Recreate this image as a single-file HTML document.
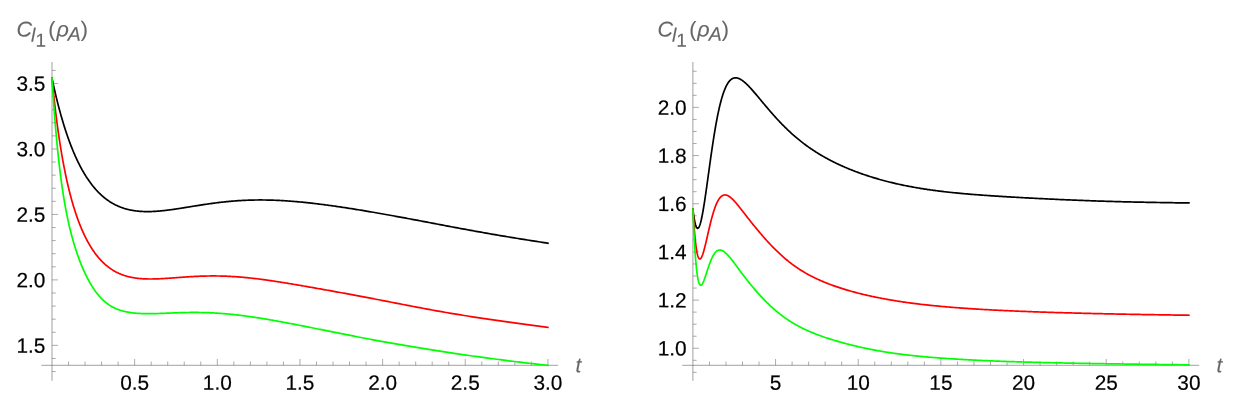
<!DOCTYPE html>
<html><head><meta charset="utf-8"><title>plot</title>
<style>
html,body{margin:0;padding:0;background:#fff;}
svg{display:block;font-family:"Liberation Sans",sans-serif;}
</style></head><body>
<svg width="1242" height="407" viewBox="0 0 1242 407">
<rect width="1242" height="407" fill="#fff"/>
<line x1="41.40" y1="365.30" x2="558.20" y2="365.30" stroke="#666" stroke-width="0.62"/>
<line x1="52.00" y1="62.00" x2="52.00" y2="380.80" stroke="#666" stroke-width="0.62"/>
<line x1="68.53" y1="365.30" x2="68.53" y2="361.50" stroke="#666" stroke-width="0.55"/>
<line x1="85.06" y1="365.30" x2="85.06" y2="361.50" stroke="#666" stroke-width="0.55"/>
<line x1="101.59" y1="365.30" x2="101.59" y2="361.50" stroke="#666" stroke-width="0.55"/>
<line x1="118.12" y1="365.30" x2="118.12" y2="361.50" stroke="#666" stroke-width="0.55"/>
<line x1="134.65" y1="365.30" x2="134.65" y2="359.00" stroke="#666" stroke-width="0.55"/>
<line x1="151.18" y1="365.30" x2="151.18" y2="361.50" stroke="#666" stroke-width="0.55"/>
<line x1="167.71" y1="365.30" x2="167.71" y2="361.50" stroke="#666" stroke-width="0.55"/>
<line x1="184.24" y1="365.30" x2="184.24" y2="361.50" stroke="#666" stroke-width="0.55"/>
<line x1="200.77" y1="365.30" x2="200.77" y2="361.50" stroke="#666" stroke-width="0.55"/>
<line x1="217.30" y1="365.30" x2="217.30" y2="359.00" stroke="#666" stroke-width="0.55"/>
<line x1="233.83" y1="365.30" x2="233.83" y2="361.50" stroke="#666" stroke-width="0.55"/>
<line x1="250.36" y1="365.30" x2="250.36" y2="361.50" stroke="#666" stroke-width="0.55"/>
<line x1="266.89" y1="365.30" x2="266.89" y2="361.50" stroke="#666" stroke-width="0.55"/>
<line x1="283.42" y1="365.30" x2="283.42" y2="361.50" stroke="#666" stroke-width="0.55"/>
<line x1="299.95" y1="365.30" x2="299.95" y2="359.00" stroke="#666" stroke-width="0.55"/>
<line x1="316.48" y1="365.30" x2="316.48" y2="361.50" stroke="#666" stroke-width="0.55"/>
<line x1="333.01" y1="365.30" x2="333.01" y2="361.50" stroke="#666" stroke-width="0.55"/>
<line x1="349.54" y1="365.30" x2="349.54" y2="361.50" stroke="#666" stroke-width="0.55"/>
<line x1="366.07" y1="365.30" x2="366.07" y2="361.50" stroke="#666" stroke-width="0.55"/>
<line x1="382.60" y1="365.30" x2="382.60" y2="359.00" stroke="#666" stroke-width="0.55"/>
<line x1="399.13" y1="365.30" x2="399.13" y2="361.50" stroke="#666" stroke-width="0.55"/>
<line x1="415.66" y1="365.30" x2="415.66" y2="361.50" stroke="#666" stroke-width="0.55"/>
<line x1="432.19" y1="365.30" x2="432.19" y2="361.50" stroke="#666" stroke-width="0.55"/>
<line x1="448.72" y1="365.30" x2="448.72" y2="361.50" stroke="#666" stroke-width="0.55"/>
<line x1="465.25" y1="365.30" x2="465.25" y2="359.00" stroke="#666" stroke-width="0.55"/>
<line x1="481.78" y1="365.30" x2="481.78" y2="361.50" stroke="#666" stroke-width="0.55"/>
<line x1="498.31" y1="365.30" x2="498.31" y2="361.50" stroke="#666" stroke-width="0.55"/>
<line x1="514.84" y1="365.30" x2="514.84" y2="361.50" stroke="#666" stroke-width="0.55"/>
<line x1="531.37" y1="365.30" x2="531.37" y2="361.50" stroke="#666" stroke-width="0.55"/>
<line x1="547.90" y1="365.30" x2="547.90" y2="359.00" stroke="#666" stroke-width="0.55"/>
<line x1="52.00" y1="371.55" x2="55.75" y2="371.55" stroke="#666" stroke-width="0.55"/>
<line x1="52.00" y1="358.45" x2="55.75" y2="358.45" stroke="#666" stroke-width="0.55"/>
<line x1="52.00" y1="345.36" x2="58.05" y2="345.36" stroke="#666" stroke-width="0.55"/>
<line x1="52.00" y1="332.27" x2="55.75" y2="332.27" stroke="#666" stroke-width="0.55"/>
<line x1="52.00" y1="319.17" x2="55.75" y2="319.17" stroke="#666" stroke-width="0.55"/>
<line x1="52.00" y1="306.08" x2="55.75" y2="306.08" stroke="#666" stroke-width="0.55"/>
<line x1="52.00" y1="292.99" x2="55.75" y2="292.99" stroke="#666" stroke-width="0.55"/>
<line x1="52.00" y1="279.89" x2="58.05" y2="279.89" stroke="#666" stroke-width="0.55"/>
<line x1="52.00" y1="266.80" x2="55.75" y2="266.80" stroke="#666" stroke-width="0.55"/>
<line x1="52.00" y1="253.71" x2="55.75" y2="253.71" stroke="#666" stroke-width="0.55"/>
<line x1="52.00" y1="240.62" x2="55.75" y2="240.62" stroke="#666" stroke-width="0.55"/>
<line x1="52.00" y1="227.52" x2="55.75" y2="227.52" stroke="#666" stroke-width="0.55"/>
<line x1="52.00" y1="214.43" x2="58.05" y2="214.43" stroke="#666" stroke-width="0.55"/>
<line x1="52.00" y1="201.34" x2="55.75" y2="201.34" stroke="#666" stroke-width="0.55"/>
<line x1="52.00" y1="188.24" x2="55.75" y2="188.24" stroke="#666" stroke-width="0.55"/>
<line x1="52.00" y1="175.15" x2="55.75" y2="175.15" stroke="#666" stroke-width="0.55"/>
<line x1="52.00" y1="162.06" x2="55.75" y2="162.06" stroke="#666" stroke-width="0.55"/>
<line x1="52.00" y1="148.96" x2="58.05" y2="148.96" stroke="#666" stroke-width="0.55"/>
<line x1="52.00" y1="135.87" x2="55.75" y2="135.87" stroke="#666" stroke-width="0.55"/>
<line x1="52.00" y1="122.78" x2="55.75" y2="122.78" stroke="#666" stroke-width="0.55"/>
<line x1="52.00" y1="109.69" x2="55.75" y2="109.69" stroke="#666" stroke-width="0.55"/>
<line x1="52.00" y1="96.59" x2="55.75" y2="96.59" stroke="#666" stroke-width="0.55"/>
<line x1="52.00" y1="83.50" x2="58.05" y2="83.50" stroke="#666" stroke-width="0.55"/>
<line x1="52.00" y1="70.41" x2="55.75" y2="70.41" stroke="#666" stroke-width="0.55"/>
<line x1="682.30" y1="365.30" x2="1199.19" y2="365.30" stroke="#666" stroke-width="0.62"/>
<line x1="692.90" y1="62.00" x2="692.90" y2="380.80" stroke="#666" stroke-width="0.62"/>
<line x1="709.43" y1="365.30" x2="709.43" y2="361.50" stroke="#666" stroke-width="0.55"/>
<line x1="725.97" y1="365.30" x2="725.97" y2="361.50" stroke="#666" stroke-width="0.55"/>
<line x1="742.50" y1="365.30" x2="742.50" y2="361.50" stroke="#666" stroke-width="0.55"/>
<line x1="759.03" y1="365.30" x2="759.03" y2="361.50" stroke="#666" stroke-width="0.55"/>
<line x1="775.56" y1="365.30" x2="775.56" y2="359.00" stroke="#666" stroke-width="0.55"/>
<line x1="792.10" y1="365.30" x2="792.10" y2="361.50" stroke="#666" stroke-width="0.55"/>
<line x1="808.63" y1="365.30" x2="808.63" y2="361.50" stroke="#666" stroke-width="0.55"/>
<line x1="825.16" y1="365.30" x2="825.16" y2="361.50" stroke="#666" stroke-width="0.55"/>
<line x1="841.70" y1="365.30" x2="841.70" y2="361.50" stroke="#666" stroke-width="0.55"/>
<line x1="858.23" y1="365.30" x2="858.23" y2="359.00" stroke="#666" stroke-width="0.55"/>
<line x1="874.76" y1="365.30" x2="874.76" y2="361.50" stroke="#666" stroke-width="0.55"/>
<line x1="891.30" y1="365.30" x2="891.30" y2="361.50" stroke="#666" stroke-width="0.55"/>
<line x1="907.83" y1="365.30" x2="907.83" y2="361.50" stroke="#666" stroke-width="0.55"/>
<line x1="924.36" y1="365.30" x2="924.36" y2="361.50" stroke="#666" stroke-width="0.55"/>
<line x1="940.89" y1="365.30" x2="940.89" y2="359.00" stroke="#666" stroke-width="0.55"/>
<line x1="957.43" y1="365.30" x2="957.43" y2="361.50" stroke="#666" stroke-width="0.55"/>
<line x1="973.96" y1="365.30" x2="973.96" y2="361.50" stroke="#666" stroke-width="0.55"/>
<line x1="990.49" y1="365.30" x2="990.49" y2="361.50" stroke="#666" stroke-width="0.55"/>
<line x1="1007.03" y1="365.30" x2="1007.03" y2="361.50" stroke="#666" stroke-width="0.55"/>
<line x1="1023.56" y1="365.30" x2="1023.56" y2="359.00" stroke="#666" stroke-width="0.55"/>
<line x1="1040.09" y1="365.30" x2="1040.09" y2="361.50" stroke="#666" stroke-width="0.55"/>
<line x1="1056.63" y1="365.30" x2="1056.63" y2="361.50" stroke="#666" stroke-width="0.55"/>
<line x1="1073.16" y1="365.30" x2="1073.16" y2="361.50" stroke="#666" stroke-width="0.55"/>
<line x1="1089.69" y1="365.30" x2="1089.69" y2="361.50" stroke="#666" stroke-width="0.55"/>
<line x1="1106.22" y1="365.30" x2="1106.22" y2="359.00" stroke="#666" stroke-width="0.55"/>
<line x1="1122.76" y1="365.30" x2="1122.76" y2="361.50" stroke="#666" stroke-width="0.55"/>
<line x1="1139.29" y1="365.30" x2="1139.29" y2="361.50" stroke="#666" stroke-width="0.55"/>
<line x1="1155.82" y1="365.30" x2="1155.82" y2="361.50" stroke="#666" stroke-width="0.55"/>
<line x1="1172.36" y1="365.30" x2="1172.36" y2="361.50" stroke="#666" stroke-width="0.55"/>
<line x1="1188.89" y1="365.30" x2="1188.89" y2="359.00" stroke="#666" stroke-width="0.55"/>
<line x1="692.90" y1="372.36" x2="696.65" y2="372.36" stroke="#666" stroke-width="0.55"/>
<line x1="692.90" y1="360.31" x2="696.65" y2="360.31" stroke="#666" stroke-width="0.55"/>
<line x1="692.90" y1="348.27" x2="698.95" y2="348.27" stroke="#666" stroke-width="0.55"/>
<line x1="692.90" y1="336.23" x2="696.65" y2="336.23" stroke="#666" stroke-width="0.55"/>
<line x1="692.90" y1="324.18" x2="696.65" y2="324.18" stroke="#666" stroke-width="0.55"/>
<line x1="692.90" y1="312.14" x2="696.65" y2="312.14" stroke="#666" stroke-width="0.55"/>
<line x1="692.90" y1="300.09" x2="698.95" y2="300.09" stroke="#666" stroke-width="0.55"/>
<line x1="692.90" y1="288.05" x2="696.65" y2="288.05" stroke="#666" stroke-width="0.55"/>
<line x1="692.90" y1="276.01" x2="696.65" y2="276.01" stroke="#666" stroke-width="0.55"/>
<line x1="692.90" y1="263.96" x2="696.65" y2="263.96" stroke="#666" stroke-width="0.55"/>
<line x1="692.90" y1="251.92" x2="698.95" y2="251.92" stroke="#666" stroke-width="0.55"/>
<line x1="692.90" y1="239.87" x2="696.65" y2="239.87" stroke="#666" stroke-width="0.55"/>
<line x1="692.90" y1="227.83" x2="696.65" y2="227.83" stroke="#666" stroke-width="0.55"/>
<line x1="692.90" y1="215.79" x2="696.65" y2="215.79" stroke="#666" stroke-width="0.55"/>
<line x1="692.90" y1="203.74" x2="698.95" y2="203.74" stroke="#666" stroke-width="0.55"/>
<line x1="692.90" y1="191.70" x2="696.65" y2="191.70" stroke="#666" stroke-width="0.55"/>
<line x1="692.90" y1="179.65" x2="696.65" y2="179.65" stroke="#666" stroke-width="0.55"/>
<line x1="692.90" y1="167.61" x2="696.65" y2="167.61" stroke="#666" stroke-width="0.55"/>
<line x1="692.90" y1="155.57" x2="698.95" y2="155.57" stroke="#666" stroke-width="0.55"/>
<line x1="692.90" y1="143.52" x2="696.65" y2="143.52" stroke="#666" stroke-width="0.55"/>
<line x1="692.90" y1="131.48" x2="696.65" y2="131.48" stroke="#666" stroke-width="0.55"/>
<line x1="692.90" y1="119.43" x2="696.65" y2="119.43" stroke="#666" stroke-width="0.55"/>
<line x1="692.90" y1="107.39" x2="698.95" y2="107.39" stroke="#666" stroke-width="0.55"/>
<line x1="692.90" y1="95.35" x2="696.65" y2="95.35" stroke="#666" stroke-width="0.55"/>
<line x1="692.90" y1="83.30" x2="696.65" y2="83.30" stroke="#666" stroke-width="0.55"/>
<line x1="692.90" y1="71.26" x2="696.65" y2="71.26" stroke="#666" stroke-width="0.55"/>
<path d="M52.00 78.39 L52.29 79.76 L52.58 81.11 L52.87 82.45 L53.16 83.78 L53.45 85.09 L53.74 86.40 L54.03 87.69 L54.32 88.97 L54.61 90.24 L54.90 91.50 L55.19 92.74 L55.48 93.98 L55.77 95.20 L56.06 96.41 L56.35 97.61 L56.64 98.80 L56.93 99.98 L57.22 101.15 L57.52 102.31 L57.81 103.46 L58.10 104.60 L58.39 105.73 L58.68 106.85 L58.97 107.96 L59.27 109.06 L59.56 110.16 L59.85 111.24 L60.15 112.31 L60.44 113.37 L60.73 114.43 L61.03 115.48 L61.32 116.51 L61.62 117.54 L61.91 118.56 L62.21 119.57 L62.50 120.57 L62.80 121.57 L63.09 122.56 L63.39 123.53 L63.69 124.50 L63.98 125.47 L64.28 126.42 L64.58 127.37 L64.88 128.30 L65.18 129.24 L65.47 130.16 L65.77 131.08 L66.07 131.98 L66.37 132.89 L66.68 133.78 L66.98 134.67 L67.28 135.55 L67.58 136.42 L67.88 137.28 L68.19 138.14 L68.49 138.99 L68.79 139.84 L69.10 140.68 L69.40 141.51 L69.71 142.33 L70.02 143.15 L70.32 143.96 L70.63 144.77 L70.94 145.57 L71.25 146.36 L71.56 147.15 L71.86 147.93 L72.18 148.70 L72.49 149.47 L72.80 150.23 L73.11 150.98 L73.42 151.73 L73.74 152.48 L74.05 153.21 L74.36 153.95 L74.68 154.67 L75.00 155.39 L75.31 156.11 L75.63 156.81 L75.95 157.52 L76.27 158.21 L76.59 158.91 L76.91 159.59 L77.23 160.27 L77.55 160.95 L77.87 161.62 L78.20 162.28 L78.52 162.94 L78.85 163.60 L79.17 164.24 L79.50 164.89 L79.83 165.53 L80.15 166.16 L80.48 166.79 L80.81 167.41 L81.14 168.02 L81.48 168.64 L81.81 169.24 L82.14 169.85 L82.48 170.44 L82.81 171.04 L83.15 171.62 L83.48 172.20 L83.82 172.78 L84.16 173.35 L84.50 173.92 L84.84 174.48 L85.18 175.04 L85.53 175.59 L85.87 176.14 L86.21 176.69 L86.56 177.22 L86.91 177.76 L87.25 178.29 L87.60 178.81 L87.95 179.33 L88.30 179.85 L88.66 180.36 L89.01 180.86 L89.36 181.37 L89.72 181.86 L90.07 182.35 L90.43 182.84 L90.79 183.33 L91.15 183.80 L91.51 184.28 L91.87 184.75 L92.23 185.21 L92.60 185.67 L92.96 186.13 L93.33 186.58 L93.70 187.03 L94.07 187.47 L94.44 187.91 L94.81 188.35 L95.18 188.78 L95.55 189.20 L95.93 189.62 L96.30 190.04 L96.68 190.45 L97.06 190.86 L97.44 191.26 L97.82 191.66 L98.20 192.06 L98.59 192.45 L98.97 192.84 L99.36 193.22 L99.75 193.60 L100.14 193.97 L100.53 194.34 L100.92 194.71 L101.31 195.07 L101.70 195.43 L102.10 195.78 L102.50 196.13 L102.90 196.47 L103.30 196.81 L103.70 197.15 L104.10 197.48 L104.50 197.81 L104.91 198.14 L105.32 198.46 L105.73 198.77 L106.14 199.08 L106.55 199.39 L106.96 199.69 L107.37 199.99 L107.79 200.29 L108.21 200.58 L108.63 200.87 L109.05 201.15 L109.47 201.43 L109.89 201.71 L110.32 201.98 L110.75 202.24 L111.17 202.51 L111.60 202.77 L112.04 203.02 L112.47 203.27 L112.90 203.52 L113.34 203.76 L113.78 204.00 L114.22 204.24 L114.66 204.47 L115.10 204.70 L115.55 204.92 L115.99 205.14 L116.44 205.36 L116.89 205.57 L117.34 205.78 L117.79 205.98 L118.25 206.18 L118.71 206.38 L119.16 206.57 L119.62 206.76 L120.09 206.94 L120.55 207.12 L121.01 207.30 L121.48 207.47 L121.95 207.64 L122.42 207.81 L122.89 207.97 L123.37 208.13 L123.84 208.29 L124.32 208.44 L124.80 208.58 L125.28 208.73 L125.77 208.87 L126.25 209.00 L126.74 209.14 L127.23 209.26 L127.72 209.39 L128.21 209.51 L128.71 209.63 L129.20 209.74 L129.70 209.85 L130.20 209.96 L130.71 210.06 L131.21 210.16 L131.72 210.26 L132.22 210.35 L132.74 210.44 L133.25 210.53 L133.76 210.61 L134.28 210.69 L134.80 210.76 L135.32 210.84 L135.84 210.91 L136.37 210.97 L136.89 211.03 L137.42 211.09 L137.95 211.15 L138.48 211.20 L139.02 211.25 L139.56 211.29 L140.10 211.33 L140.64 211.37 L141.18 211.41 L141.73 211.44 L142.27 211.47 L142.82 211.50 L143.38 211.52 L143.93 211.54 L144.49 211.56 L145.05 211.57 L145.61 211.58 L146.17 211.59 L146.74 211.59 L147.30 211.60 L147.87 211.60 L148.45 211.59 L149.02 211.58 L149.60 211.57 L150.18 211.56 L150.76 211.55 L151.34 211.53 L151.93 211.51 L152.51 211.48 L153.10 211.46 L153.70 211.43 L154.29 211.40 L154.89 211.36 L155.49 211.33 L156.09 211.29 L156.70 211.24 L157.30 211.20 L157.91 211.15 L158.52 211.10 L159.14 211.05 L159.75 211.00 L160.37 210.94 L161.00 210.88 L161.62 210.82 L162.25 210.76 L162.87 210.69 L163.51 210.63 L164.14 210.56 L164.78 210.49 L165.41 210.41 L166.06 210.34 L166.70 210.26 L167.35 210.18 L167.99 210.10 L168.65 210.02 L169.30 209.93 L169.96 209.84 L170.62 209.76 L171.28 209.67 L171.94 209.57 L172.61 209.48 L173.28 209.39 L173.95 209.29 L174.62 209.19 L175.30 209.09 L175.98 208.99 L176.66 208.89 L177.35 208.78 L178.04 208.68 L178.73 208.57 L179.42 208.47 L180.12 208.36 L180.82 208.25 L181.52 208.14 L182.22 208.03 L182.93 207.92 L183.64 207.80 L184.35 207.69 L185.07 207.57 L185.78 207.46 L186.50 207.34 L187.23 207.22 L187.95 207.11 L188.68 206.99 L189.42 206.87 L190.15 206.75 L190.89 206.63 L191.63 206.51 L192.37 206.39 L193.12 206.27 L193.87 206.15 L194.62 206.03 L195.37 205.91 L196.13 205.79 L196.89 205.66 L197.66 205.54 L198.42 205.42 L199.19 205.30 L199.96 205.18 L200.74 205.06 L201.52 204.94 L202.30 204.82 L203.08 204.70 L203.87 204.58 L204.66 204.46 L205.45 204.34 L206.25 204.23 L207.05 204.11 L207.85 203.99 L208.66 203.88 L209.46 203.76 L210.28 203.65 L211.09 203.54 L211.91 203.42 L212.73 203.31 L213.55 203.20 L214.38 203.09 L215.21 202.99 L216.04 202.88 L216.88 202.77 L217.72 202.67 L218.56 202.57 L219.41 202.46 L220.26 202.36 L221.11 202.27 L221.96 202.17 L222.82 202.07 L223.68 201.98 L224.55 201.89 L225.42 201.79 L226.29 201.71 L227.16 201.62 L228.04 201.53 L228.92 201.45 L229.80 201.37 L230.69 201.29 L231.58 201.21 L232.48 201.13 L233.37 201.06 L234.27 200.99 L235.18 200.92 L236.09 200.85 L237.00 200.79 L237.91 200.72 L238.83 200.66 L239.75 200.60 L240.67 200.55 L241.60 200.50 L242.53 200.44 L243.47 200.40 L244.40 200.35 L245.35 200.31 L246.29 200.26 L247.24 200.23 L248.19 200.19 L249.14 200.16 L250.10 200.13 L251.06 200.10 L252.03 200.07 L253.00 200.05 L253.97 200.03 L254.95 200.01 L255.93 200.00 L256.91 199.99 L257.90 199.98 L258.89 199.97 L259.88 199.97 L260.88 199.97 L261.88 199.97 L262.88 199.98 L263.89 199.98 L264.90 199.99 L265.92 200.01 L266.93 200.03 L267.96 200.05 L268.98 200.07 L270.01 200.09 L271.05 200.12 L272.08 200.15 L273.12 200.19 L274.17 200.23 L275.21 200.27 L276.27 200.31 L277.32 200.36 L278.38 200.41 L279.44 200.46 L280.51 200.51 L281.58 200.57 L282.65 200.63 L283.73 200.70 L284.81 200.76 L285.90 200.83 L286.99 200.91 L288.08 200.98 L289.18 201.06 L290.28 201.14 L291.38 201.23 L292.49 201.31 L293.60 201.40 L294.72 201.50 L295.84 201.59 L296.96 201.69 L298.09 201.79 L299.22 201.90 L300.36 202.00 L301.50 202.11 L302.64 202.22 L303.79 202.34 L304.94 202.46 L306.09 202.58 L307.25 202.70 L308.41 202.82 L309.58 202.95 L310.75 203.08 L311.93 203.21 L313.10 203.35 L314.29 203.49 L315.47 203.63 L316.66 203.77 L317.86 203.92 L319.06 204.06 L320.26 204.22 L321.47 204.37 L322.68 204.52 L323.89 204.68 L325.11 204.84 L326.34 205.00 L327.56 205.17 L328.80 205.33 L330.03 205.50 L331.27 205.67 L332.51 205.85 L333.76 206.02 L335.02 206.20 L336.27 206.38 L337.53 206.56 L338.80 206.75 L340.07 206.94 L341.34 207.12 L342.62 207.31 L343.90 207.51 L345.18 207.70 L346.47 207.90 L347.77 208.10 L349.07 208.30 L350.37 208.50 L351.68 208.71 L352.99 208.92 L354.30 209.13 L355.62 209.34 L356.95 209.55 L358.28 209.77 L359.61 209.98 L360.95 210.20 L362.29 210.42 L363.63 210.65 L364.98 210.87 L366.34 211.10 L367.70 211.33 L369.06 211.56 L370.43 211.79 L371.80 212.03 L373.18 212.26 L374.56 212.50 L375.94 212.74 L377.33 212.98 L378.73 213.23 L380.13 213.47 L381.53 213.72 L382.94 213.97 L384.35 214.22 L385.77 214.47 L387.19 214.73 L388.62 214.98 L390.05 215.24 L391.48 215.50 L392.92 215.76 L394.36 216.02 L395.81 216.29 L397.27 216.56 L398.72 216.82 L400.19 217.09 L401.65 217.37 L403.12 217.64 L404.60 217.91 L406.08 218.19 L407.57 218.47 L409.06 218.74 L410.55 219.03 L412.05 219.31 L413.55 219.59 L415.06 219.87 L416.58 220.16 L418.10 220.45 L419.62 220.74 L421.15 221.03 L422.68 221.32 L424.21 221.61 L425.76 221.90 L427.30 222.20 L428.85 222.49 L430.41 222.79 L431.97 223.08 L433.54 223.38 L435.11 223.68 L436.68 223.98 L438.26 224.28 L439.85 224.58 L441.44 224.88 L443.03 225.19 L444.63 225.49 L446.23 225.79 L447.84 226.10 L449.46 226.40 L451.08 226.71 L452.70 227.01 L454.33 227.32 L455.96 227.62 L457.60 227.93 L459.24 228.24 L460.89 228.54 L462.55 228.85 L464.20 229.16 L465.87 229.46 L467.54 229.77 L469.21 230.07 L470.89 230.38 L472.57 230.69 L474.26 230.99 L475.95 231.30 L477.65 231.60 L479.35 231.91 L481.06 232.21 L482.77 232.52 L484.49 232.82 L486.22 233.13 L487.94 233.43 L489.68 233.73 L491.42 234.04 L493.16 234.34 L494.91 234.64 L496.66 234.94 L498.42 235.24 L500.19 235.54 L501.96 235.84 L503.73 236.14 L505.51 236.44 L507.30 236.73 L509.09 237.03 L510.88 237.33 L512.68 237.63 L514.49 237.92 L516.30 238.22 L518.12 238.51 L519.94 238.81 L521.77 239.10 L523.60 239.40 L525.44 239.69 L527.28 239.98 L529.13 240.28 L530.98 240.57 L532.84 240.86 L534.70 241.15 L536.57 241.45 L538.45 241.74 L540.33 242.03 L542.21 242.32 L544.10 242.61 L546.00 242.90 L547.90 243.20" fill="none" stroke="#000" stroke-width="1.7" stroke-linejoin="round" stroke-linecap="square"/>
<path d="M52.00 78.40 L52.29 81.36 L52.58 84.27 L52.87 87.12 L53.16 89.92 L53.45 92.67 L53.74 95.38 L54.03 98.03 L54.32 100.64 L54.61 103.20 L54.90 105.72 L55.19 108.20 L55.48 110.63 L55.77 113.02 L56.06 115.37 L56.35 117.69 L56.64 119.96 L56.93 122.20 L57.22 124.40 L57.52 126.57 L57.81 128.70 L58.10 130.79 L58.39 132.86 L58.68 134.89 L58.97 136.89 L59.27 138.85 L59.56 140.79 L59.85 142.70 L60.15 144.58 L60.44 146.43 L60.73 148.25 L61.03 150.05 L61.32 151.82 L61.62 153.56 L61.91 155.28 L62.21 156.97 L62.50 158.64 L62.80 160.29 L63.09 161.91 L63.39 163.51 L63.69 165.08 L63.98 166.64 L64.28 168.17 L64.58 169.69 L64.88 171.18 L65.18 172.65 L65.47 174.10 L65.77 175.53 L66.07 176.95 L66.37 178.34 L66.68 179.72 L66.98 181.07 L67.28 182.41 L67.58 183.74 L67.88 185.04 L68.19 186.33 L68.49 187.61 L68.79 188.86 L69.10 190.11 L69.40 191.33 L69.71 192.54 L70.02 193.74 L70.32 194.92 L70.63 196.09 L70.94 197.24 L71.25 198.38 L71.56 199.50 L71.86 200.61 L72.18 201.71 L72.49 202.80 L72.80 203.87 L73.11 204.93 L73.42 205.98 L73.74 207.01 L74.05 208.03 L74.36 209.04 L74.68 210.04 L75.00 211.03 L75.31 212.01 L75.63 212.97 L75.95 213.93 L76.27 214.87 L76.59 215.80 L76.91 216.73 L77.23 217.64 L77.55 218.54 L77.87 219.43 L78.20 220.31 L78.52 221.19 L78.85 222.05 L79.17 222.90 L79.50 223.74 L79.83 224.58 L80.15 225.40 L80.48 226.22 L80.81 227.02 L81.14 227.82 L81.48 228.61 L81.81 229.39 L82.14 230.16 L82.48 230.92 L82.81 231.68 L83.15 232.42 L83.48 233.16 L83.82 233.89 L84.16 234.61 L84.50 235.33 L84.84 236.03 L85.18 236.73 L85.53 237.42 L85.87 238.11 L86.21 238.78 L86.56 239.45 L86.91 240.11 L87.25 240.76 L87.60 241.41 L87.95 242.05 L88.30 242.68 L88.66 243.30 L89.01 243.92 L89.36 244.53 L89.72 245.14 L90.07 245.73 L90.43 246.32 L90.79 246.91 L91.15 247.48 L91.51 248.05 L91.87 248.62 L92.23 249.17 L92.60 249.73 L92.96 250.27 L93.33 250.81 L93.70 251.34 L94.07 251.86 L94.44 252.38 L94.81 252.90 L95.18 253.40 L95.55 253.90 L95.93 254.40 L96.30 254.89 L96.68 255.37 L97.06 255.85 L97.44 256.32 L97.82 256.78 L98.20 257.24 L98.59 257.70 L98.97 258.14 L99.36 258.58 L99.75 259.02 L100.14 259.45 L100.53 259.88 L100.92 260.30 L101.31 260.71 L101.70 261.12 L102.10 261.52 L102.50 261.92 L102.90 262.31 L103.30 262.70 L103.70 263.08 L104.10 263.45 L104.50 263.82 L104.91 264.19 L105.32 264.55 L105.73 264.91 L106.14 265.25 L106.55 265.60 L106.96 265.94 L107.37 266.27 L107.79 266.60 L108.21 266.93 L108.63 267.25 L109.05 267.56 L109.47 267.87 L109.89 268.17 L110.32 268.47 L110.75 268.77 L111.17 269.06 L111.60 269.34 L112.04 269.62 L112.47 269.90 L112.90 270.17 L113.34 270.43 L113.78 270.69 L114.22 270.95 L114.66 271.20 L115.10 271.45 L115.55 271.69 L115.99 271.93 L116.44 272.16 L116.89 272.39 L117.34 272.61 L117.79 272.83 L118.25 273.05 L118.71 273.26 L119.16 273.47 L119.62 273.67 L120.09 273.87 L120.55 274.06 L121.01 274.25 L121.48 274.43 L121.95 274.62 L122.42 274.79 L122.89 274.96 L123.37 275.13 L123.84 275.30 L124.32 275.46 L124.80 275.61 L125.28 275.77 L125.77 275.91 L126.25 276.06 L126.74 276.20 L127.23 276.33 L127.72 276.47 L128.21 276.60 L128.71 276.72 L129.20 276.84 L129.70 276.96 L130.20 277.07 L130.71 277.18 L131.21 277.29 L131.72 277.39 L132.22 277.49 L132.74 277.59 L133.25 277.68 L133.76 277.77 L134.28 277.85 L134.80 277.93 L135.32 278.01 L135.84 278.09 L136.37 278.16 L136.89 278.23 L137.42 278.29 L137.95 278.36 L138.48 278.41 L139.02 278.47 L139.56 278.52 L140.10 278.57 L140.64 278.62 L141.18 278.66 L141.73 278.70 L142.27 278.74 L142.82 278.78 L143.38 278.81 L143.93 278.84 L144.49 278.87 L145.05 278.89 L145.61 278.91 L146.17 278.93 L146.74 278.95 L147.30 278.96 L147.87 278.97 L148.45 278.98 L149.02 278.99 L149.60 278.99 L150.18 279.00 L150.76 279.00 L151.34 278.99 L151.93 278.99 L152.51 278.98 L153.10 278.97 L153.70 278.96 L154.29 278.95 L154.89 278.94 L155.49 278.92 L156.09 278.90 L156.70 278.88 L157.30 278.86 L157.91 278.84 L158.52 278.81 L159.14 278.79 L159.75 278.76 L160.37 278.73 L161.00 278.70 L161.62 278.66 L162.25 278.63 L162.87 278.59 L163.51 278.56 L164.14 278.52 L164.78 278.48 L165.41 278.44 L166.06 278.40 L166.70 278.36 L167.35 278.32 L167.99 278.27 L168.65 278.23 L169.30 278.18 L169.96 278.14 L170.62 278.09 L171.28 278.04 L171.94 277.99 L172.61 277.95 L173.28 277.90 L173.95 277.85 L174.62 277.80 L175.30 277.75 L175.98 277.70 L176.66 277.65 L177.35 277.60 L178.04 277.54 L178.73 277.49 L179.42 277.44 L180.12 277.39 L180.82 277.34 L181.52 277.29 L182.22 277.24 L182.93 277.19 L183.64 277.14 L184.35 277.09 L185.07 277.04 L185.78 276.99 L186.50 276.94 L187.23 276.90 L187.95 276.85 L188.68 276.80 L189.42 276.76 L190.15 276.71 L190.89 276.67 L191.63 276.63 L192.37 276.58 L193.12 276.54 L193.87 276.50 L194.62 276.46 L195.37 276.42 L196.13 276.39 L196.89 276.35 L197.66 276.32 L198.42 276.28 L199.19 276.25 L199.96 276.22 L200.74 276.19 L201.52 276.16 L202.30 276.14 L203.08 276.11 L203.87 276.09 L204.66 276.07 L205.45 276.05 L206.25 276.03 L207.05 276.02 L207.85 276.00 L208.66 275.99 L209.46 275.98 L210.28 275.97 L211.09 275.97 L211.91 275.96 L212.73 275.96 L213.55 275.96 L214.38 275.96 L215.21 275.96 L216.04 275.97 L216.88 275.98 L217.72 275.99 L218.56 276.00 L219.41 276.02 L220.26 276.03 L221.11 276.05 L221.96 276.07 L222.82 276.10 L223.68 276.13 L224.55 276.15 L225.42 276.19 L226.29 276.22 L227.16 276.26 L228.04 276.30 L228.92 276.34 L229.80 276.38 L230.69 276.43 L231.58 276.48 L232.48 276.53 L233.37 276.58 L234.27 276.64 L235.18 276.70 L236.09 276.76 L237.00 276.83 L237.91 276.89 L238.83 276.96 L239.75 277.04 L240.67 277.11 L241.60 277.19 L242.53 277.27 L243.47 277.35 L244.40 277.44 L245.35 277.53 L246.29 277.62 L247.24 277.71 L248.19 277.81 L249.14 277.91 L250.10 278.01 L251.06 278.11 L252.03 278.22 L253.00 278.33 L253.97 278.44 L254.95 278.55 L255.93 278.67 L256.91 278.78 L257.90 278.91 L258.89 279.03 L259.88 279.16 L260.88 279.28 L261.88 279.41 L262.88 279.55 L263.89 279.68 L264.90 279.82 L265.92 279.96 L266.93 280.10 L267.96 280.25 L268.98 280.39 L270.01 280.54 L271.05 280.69 L272.08 280.84 L273.12 281.00 L274.17 281.15 L275.21 281.31 L276.27 281.47 L277.32 281.64 L278.38 281.80 L279.44 281.97 L280.51 282.13 L281.58 282.30 L282.65 282.47 L283.73 282.65 L284.81 282.82 L285.90 283.00 L286.99 283.18 L288.08 283.36 L289.18 283.54 L290.28 283.72 L291.38 283.91 L292.49 284.09 L293.60 284.28 L294.72 284.47 L295.84 284.66 L296.96 284.85 L298.09 285.04 L299.22 285.24 L300.36 285.43 L301.50 285.63 L302.64 285.82 L303.79 286.02 L304.94 286.22 L306.09 286.43 L307.25 286.63 L308.41 286.83 L309.58 287.04 L310.75 287.24 L311.93 287.45 L313.10 287.66 L314.29 287.87 L315.47 288.08 L316.66 288.29 L317.86 288.50 L319.06 288.72 L320.26 288.93 L321.47 289.15 L322.68 289.36 L323.89 289.58 L325.11 289.80 L326.34 290.02 L327.56 290.24 L328.80 290.46 L330.03 290.69 L331.27 290.91 L332.51 291.14 L333.76 291.36 L335.02 291.59 L336.27 291.82 L337.53 292.05 L338.80 292.28 L340.07 292.51 L341.34 292.74 L342.62 292.98 L343.90 293.21 L345.18 293.45 L346.47 293.69 L347.77 293.93 L349.07 294.17 L350.37 294.41 L351.68 294.65 L352.99 294.89 L354.30 295.14 L355.62 295.38 L356.95 295.63 L358.28 295.88 L359.61 296.13 L360.95 296.38 L362.29 296.63 L363.63 296.89 L364.98 297.14 L366.34 297.40 L367.70 297.66 L369.06 297.92 L370.43 298.18 L371.80 298.44 L373.18 298.70 L374.56 298.97 L375.94 299.24 L377.33 299.50 L378.73 299.77 L380.13 300.04 L381.53 300.31 L382.94 300.58 L384.35 300.86 L385.77 301.13 L387.19 301.41 L388.62 301.68 L390.05 301.96 L391.48 302.24 L392.92 302.52 L394.36 302.80 L395.81 303.08 L397.27 303.36 L398.72 303.65 L400.19 303.93 L401.65 304.22 L403.12 304.50 L404.60 304.79 L406.08 305.08 L407.57 305.36 L409.06 305.65 L410.55 305.94 L412.05 306.23 L413.55 306.51 L415.06 306.80 L416.58 307.09 L418.10 307.38 L419.62 307.67 L421.15 307.96 L422.68 308.25 L424.21 308.53 L425.76 308.82 L427.30 309.11 L428.85 309.40 L430.41 309.68 L431.97 309.97 L433.54 310.25 L435.11 310.54 L436.68 310.82 L438.26 311.11 L439.85 311.39 L441.44 311.67 L443.03 311.95 L444.63 312.23 L446.23 312.51 L447.84 312.78 L449.46 313.06 L451.08 313.34 L452.70 313.61 L454.33 313.88 L455.96 314.15 L457.60 314.42 L459.24 314.69 L460.89 314.96 L462.55 315.23 L464.20 315.49 L465.87 315.76 L467.54 316.02 L469.21 316.28 L470.89 316.54 L472.57 316.80 L474.26 317.06 L475.95 317.32 L477.65 317.57 L479.35 317.83 L481.06 318.08 L482.77 318.34 L484.49 318.59 L486.22 318.84 L487.94 319.09 L489.68 319.34 L491.42 319.59 L493.16 319.84 L494.91 320.09 L496.66 320.34 L498.42 320.59 L500.19 320.84 L501.96 321.09 L503.73 321.33 L505.51 321.58 L507.30 321.83 L509.09 322.08 L510.88 322.33 L512.68 322.57 L514.49 322.82 L516.30 323.07 L518.12 323.32 L519.94 323.57 L521.77 323.82 L523.60 324.08 L525.44 324.33 L527.28 324.58 L529.13 324.83 L530.98 325.09 L532.84 325.34 L534.70 325.60 L536.57 325.86 L538.45 326.11 L540.33 326.37 L542.21 326.63 L544.10 326.89 L546.00 327.15 L547.90 327.41" fill="none" stroke="#f00" stroke-width="1.7" stroke-linejoin="round" stroke-linecap="square"/>
<path d="M52.00 78.40 L52.29 83.00 L52.58 87.49 L52.87 91.86 L53.16 96.12 L53.45 100.27 L53.74 104.32 L54.03 108.27 L54.32 112.11 L54.61 115.87 L54.90 119.53 L55.19 123.10 L55.48 126.58 L55.77 129.98 L56.06 133.30 L56.35 136.53 L56.64 139.69 L56.93 142.77 L57.22 145.78 L57.52 148.72 L57.81 151.59 L58.10 154.39 L58.39 157.13 L58.68 159.80 L58.97 162.42 L59.27 164.97 L59.56 167.47 L59.85 169.90 L60.15 172.29 L60.44 174.62 L60.73 176.90 L61.03 179.13 L61.32 181.32 L61.62 183.45 L61.91 185.54 L62.21 187.59 L62.50 189.60 L62.80 191.56 L63.09 193.48 L63.39 195.37 L63.69 197.21 L63.98 199.02 L64.28 200.80 L64.58 202.54 L64.88 204.24 L65.18 205.92 L65.47 207.56 L65.77 209.17 L66.07 210.75 L66.37 212.31 L66.68 213.83 L66.98 215.33 L67.28 216.81 L67.58 218.25 L67.88 219.68 L68.19 221.08 L68.49 222.45 L68.79 223.81 L69.10 225.14 L69.40 226.45 L69.71 227.74 L70.02 229.01 L70.32 230.26 L70.63 231.50 L70.94 232.71 L71.25 233.91 L71.56 235.09 L71.86 236.25 L72.18 237.40 L72.49 238.53 L72.80 239.65 L73.11 240.75 L73.42 241.84 L73.74 242.91 L74.05 243.97 L74.36 245.01 L74.68 246.04 L75.00 247.06 L75.31 248.07 L75.63 249.07 L75.95 250.05 L76.27 251.02 L76.59 251.98 L76.91 252.93 L77.23 253.87 L77.55 254.80 L77.87 255.72 L78.20 256.62 L78.52 257.52 L78.85 258.41 L79.17 259.29 L79.50 260.16 L79.83 261.02 L80.15 261.87 L80.48 262.71 L80.81 263.54 L81.14 264.36 L81.48 265.18 L81.81 265.99 L82.14 266.79 L82.48 267.58 L82.81 268.36 L83.15 269.13 L83.48 269.90 L83.82 270.66 L84.16 271.41 L84.50 272.15 L84.84 272.88 L85.18 273.61 L85.53 274.33 L85.87 275.04 L86.21 275.75 L86.56 276.44 L86.91 277.13 L87.25 277.82 L87.60 278.49 L87.95 279.16 L88.30 279.82 L88.66 280.47 L89.01 281.11 L89.36 281.75 L89.72 282.38 L90.07 283.01 L90.43 283.62 L90.79 284.23 L91.15 284.83 L91.51 285.43 L91.87 286.01 L92.23 286.59 L92.60 287.17 L92.96 287.73 L93.33 288.29 L93.70 288.84 L94.07 289.38 L94.44 289.92 L94.81 290.45 L95.18 290.97 L95.55 291.49 L95.93 291.99 L96.30 292.50 L96.68 292.99 L97.06 293.48 L97.44 293.96 L97.82 294.43 L98.20 294.89 L98.59 295.35 L98.97 295.80 L99.36 296.25 L99.75 296.68 L100.14 297.11 L100.53 297.54 L100.92 297.95 L101.31 298.36 L101.70 298.77 L102.10 299.16 L102.50 299.55 L102.90 299.93 L103.30 300.31 L103.70 300.68 L104.10 301.04 L104.50 301.39 L104.91 301.74 L105.32 302.08 L105.73 302.42 L106.14 302.75 L106.55 303.07 L106.96 303.39 L107.37 303.70 L107.79 304.00 L108.21 304.30 L108.63 304.59 L109.05 304.87 L109.47 305.15 L109.89 305.43 L110.32 305.69 L110.75 305.95 L111.17 306.21 L111.60 306.46 L112.04 306.70 L112.47 306.94 L112.90 307.17 L113.34 307.40 L113.78 307.62 L114.22 307.84 L114.66 308.05 L115.10 308.26 L115.55 308.46 L115.99 308.65 L116.44 308.85 L116.89 309.03 L117.34 309.21 L117.79 309.39 L118.25 309.56 L118.71 309.73 L119.16 309.89 L119.62 310.05 L120.09 310.20 L120.55 310.35 L121.01 310.50 L121.48 310.64 L121.95 310.77 L122.42 310.91 L122.89 311.03 L123.37 311.16 L123.84 311.28 L124.32 311.40 L124.80 311.51 L125.28 311.62 L125.77 311.73 L126.25 311.83 L126.74 311.93 L127.23 312.02 L127.72 312.11 L128.21 312.20 L128.71 312.29 L129.20 312.37 L129.70 312.45 L130.20 312.53 L130.71 312.60 L131.21 312.67 L131.72 312.74 L132.22 312.80 L132.74 312.87 L133.25 312.93 L133.76 312.98 L134.28 313.04 L134.80 313.09 L135.32 313.14 L135.84 313.18 L136.37 313.23 L136.89 313.27 L137.42 313.31 L137.95 313.35 L138.48 313.38 L139.02 313.41 L139.56 313.44 L140.10 313.47 L140.64 313.50 L141.18 313.52 L141.73 313.55 L142.27 313.57 L142.82 313.59 L143.38 313.60 L143.93 313.62 L144.49 313.63 L145.05 313.64 L145.61 313.65 L146.17 313.66 L146.74 313.66 L147.30 313.67 L147.87 313.67 L148.45 313.67 L149.02 313.67 L149.60 313.67 L150.18 313.67 L150.76 313.66 L151.34 313.66 L151.93 313.65 L152.51 313.64 L153.10 313.63 L153.70 313.62 L154.29 313.61 L154.89 313.60 L155.49 313.58 L156.09 313.57 L156.70 313.55 L157.30 313.53 L157.91 313.52 L158.52 313.50 L159.14 313.48 L159.75 313.46 L160.37 313.44 L161.00 313.42 L161.62 313.39 L162.25 313.37 L162.87 313.35 L163.51 313.32 L164.14 313.30 L164.78 313.27 L165.41 313.25 L166.06 313.22 L166.70 313.19 L167.35 313.17 L167.99 313.14 L168.65 313.11 L169.30 313.09 L169.96 313.06 L170.62 313.03 L171.28 313.01 L171.94 312.98 L172.61 312.95 L173.28 312.93 L173.95 312.90 L174.62 312.88 L175.30 312.85 L175.98 312.82 L176.66 312.80 L177.35 312.78 L178.04 312.75 L178.73 312.73 L179.42 312.71 L180.12 312.68 L180.82 312.66 L181.52 312.64 L182.22 312.62 L182.93 312.60 L183.64 312.59 L184.35 312.57 L185.07 312.55 L185.78 312.54 L186.50 312.52 L187.23 312.51 L187.95 312.50 L188.68 312.49 L189.42 312.48 L190.15 312.47 L190.89 312.46 L191.63 312.46 L192.37 312.45 L193.12 312.45 L193.87 312.45 L194.62 312.45 L195.37 312.45 L196.13 312.45 L196.89 312.45 L197.66 312.46 L198.42 312.47 L199.19 312.48 L199.96 312.49 L200.74 312.50 L201.52 312.51 L202.30 312.53 L203.08 312.55 L203.87 312.57 L204.66 312.59 L205.45 312.61 L206.25 312.64 L207.05 312.66 L207.85 312.69 L208.66 312.72 L209.46 312.76 L210.28 312.79 L211.09 312.83 L211.91 312.87 L212.73 312.91 L213.55 312.95 L214.38 313.00 L215.21 313.05 L216.04 313.09 L216.88 313.15 L217.72 313.20 L218.56 313.26 L219.41 313.31 L220.26 313.37 L221.11 313.44 L221.96 313.50 L222.82 313.57 L223.68 313.64 L224.55 313.71 L225.42 313.78 L226.29 313.86 L227.16 313.94 L228.04 314.02 L228.92 314.10 L229.80 314.19 L230.69 314.27 L231.58 314.36 L232.48 314.46 L233.37 314.55 L234.27 314.65 L235.18 314.75 L236.09 314.85 L237.00 314.95 L237.91 315.06 L238.83 315.16 L239.75 315.28 L240.67 315.39 L241.60 315.50 L242.53 315.62 L243.47 315.74 L244.40 315.86 L245.35 315.99 L246.29 316.11 L247.24 316.24 L248.19 316.37 L249.14 316.51 L250.10 316.64 L251.06 316.78 L252.03 316.92 L253.00 317.06 L253.97 317.21 L254.95 317.35 L255.93 317.50 L256.91 317.65 L257.90 317.81 L258.89 317.96 L259.88 318.12 L260.88 318.28 L261.88 318.44 L262.88 318.60 L263.89 318.77 L264.90 318.94 L265.92 319.11 L266.93 319.28 L267.96 319.45 L268.98 319.63 L270.01 319.80 L271.05 319.98 L272.08 320.16 L273.12 320.35 L274.17 320.53 L275.21 320.72 L276.27 320.91 L277.32 321.10 L278.38 321.29 L279.44 321.49 L280.51 321.68 L281.58 321.88 L282.65 322.08 L283.73 322.28 L284.81 322.48 L285.90 322.69 L286.99 322.89 L288.08 323.10 L289.18 323.31 L290.28 323.52 L291.38 323.73 L292.49 323.95 L293.60 324.16 L294.72 324.38 L295.84 324.60 L296.96 324.81 L298.09 325.04 L299.22 325.26 L300.36 325.48 L301.50 325.70 L302.64 325.93 L303.79 326.16 L304.94 326.39 L306.09 326.61 L307.25 326.84 L308.41 327.08 L309.58 327.31 L310.75 327.54 L311.93 327.78 L313.10 328.01 L314.29 328.25 L315.47 328.49 L316.66 328.73 L317.86 328.97 L319.06 329.21 L320.26 329.45 L321.47 329.69 L322.68 329.93 L323.89 330.18 L325.11 330.42 L326.34 330.67 L327.56 330.91 L328.80 331.16 L330.03 331.41 L331.27 331.65 L332.51 331.90 L333.76 332.15 L335.02 332.40 L336.27 332.65 L337.53 332.90 L338.80 333.15 L340.07 333.41 L341.34 333.66 L342.62 333.91 L343.90 334.17 L345.18 334.42 L346.47 334.67 L347.77 334.93 L349.07 335.18 L350.37 335.44 L351.68 335.69 L352.99 335.95 L354.30 336.20 L355.62 336.46 L356.95 336.72 L358.28 336.97 L359.61 337.23 L360.95 337.48 L362.29 337.74 L363.63 338.00 L364.98 338.26 L366.34 338.51 L367.70 338.77 L369.06 339.03 L370.43 339.28 L371.80 339.54 L373.18 339.80 L374.56 340.06 L375.94 340.31 L377.33 340.57 L378.73 340.83 L380.13 341.09 L381.53 341.34 L382.94 341.60 L384.35 341.86 L385.77 342.11 L387.19 342.37 L388.62 342.63 L390.05 342.88 L391.48 343.14 L392.92 343.39 L394.36 343.65 L395.81 343.91 L397.27 344.16 L398.72 344.42 L400.19 344.67 L401.65 344.92 L403.12 345.18 L404.60 345.43 L406.08 345.69 L407.57 345.94 L409.06 346.19 L410.55 346.45 L412.05 346.70 L413.55 346.95 L415.06 347.20 L416.58 347.45 L418.10 347.71 L419.62 347.96 L421.15 348.21 L422.68 348.46 L424.21 348.71 L425.76 348.96 L427.30 349.20 L428.85 349.45 L430.41 349.70 L431.97 349.95 L433.54 350.20 L435.11 350.44 L436.68 350.69 L438.26 350.93 L439.85 351.18 L441.44 351.43 L443.03 351.67 L444.63 351.91 L446.23 352.16 L447.84 352.40 L449.46 352.64 L451.08 352.89 L452.70 353.13 L454.33 353.37 L455.96 353.61 L457.60 353.85 L459.24 354.09 L460.89 354.33 L462.55 354.57 L464.20 354.81 L465.87 355.05 L467.54 355.28 L469.21 355.52 L470.89 355.76 L472.57 355.99 L474.26 356.23 L475.95 356.46 L477.65 356.70 L479.35 356.93 L481.06 357.17 L482.77 357.40 L484.49 357.63 L486.22 357.86 L487.94 358.09 L489.68 358.32 L491.42 358.55 L493.16 358.78 L494.91 359.01 L496.66 359.24 L498.42 359.47 L500.19 359.70 L501.96 359.92 L503.73 360.15 L505.51 360.38 L507.30 360.60 L509.09 360.83 L510.88 361.05 L512.68 361.28 L514.49 361.50 L516.30 361.72 L518.12 361.94 L519.94 362.16 L521.77 362.39 L523.60 362.61 L525.44 362.83 L527.28 363.05 L529.13 363.26 L530.98 363.48 L532.84 363.70 L534.70 363.92 L536.57 364.13 L538.45 364.35 L540.33 364.56 L542.21 364.78 L544.10 364.99 L546.00 365.21 L547.90 365.42" fill="none" stroke="#0f0" stroke-width="1.7" stroke-linejoin="round" stroke-linecap="square"/>
<path d="M692.90 209.20 L693.19 211.55 L693.48 213.75 L693.77 215.78 L694.06 217.65 L694.35 219.37 L694.64 220.93 L694.93 222.33 L695.22 223.58 L695.51 224.68 L695.80 225.63 L696.09 226.43 L696.38 227.09 L696.67 227.60 L696.96 227.98 L697.25 228.23 L697.54 228.34 L697.83 228.33 L698.13 228.19 L698.42 227.93 L698.71 227.56 L699.00 227.07 L699.29 226.47 L699.58 225.76 L699.88 224.96 L700.17 224.06 L700.46 223.06 L700.75 221.97 L701.05 220.80 L701.34 219.54 L701.63 218.20 L701.93 216.79 L702.22 215.31 L702.52 213.77 L702.81 212.15 L703.11 210.48 L703.40 208.76 L703.70 206.97 L704.00 205.14 L704.29 203.27 L704.59 201.35 L704.89 199.39 L705.18 197.40 L705.48 195.38 L705.78 193.32 L706.08 191.24 L706.38 189.13 L706.68 187.01 L706.98 184.86 L707.28 182.70 L707.58 180.53 L707.88 178.35 L708.18 176.16 L708.48 173.97 L708.79 171.77 L709.09 169.57 L709.39 167.37 L709.70 165.18 L710.00 163.00 L710.31 160.82 L710.61 158.65 L710.92 156.49 L711.23 154.35 L711.53 152.22 L711.84 150.11 L712.15 148.01 L712.46 145.93 L712.77 143.88 L713.08 141.85 L713.39 139.84 L713.70 137.85 L714.01 135.89 L714.33 133.96 L714.64 132.05 L714.95 130.18 L715.27 128.33 L715.58 126.51 L715.90 124.72 L716.22 122.97 L716.53 121.25 L716.85 119.56 L717.17 117.90 L717.49 116.27 L717.81 114.68 L718.13 113.13 L718.46 111.61 L718.78 110.12 L719.10 108.67 L719.43 107.26 L719.75 105.88 L720.08 104.54 L720.40 103.23 L720.73 101.96 L721.06 100.72 L721.39 99.52 L721.72 98.36 L722.05 97.23 L722.38 96.14 L722.71 95.08 L723.05 94.06 L723.38 93.07 L723.72 92.12 L724.05 91.20 L724.39 90.32 L724.73 89.47 L725.07 88.65 L725.41 87.87 L725.75 87.12 L726.09 86.40 L726.43 85.72 L726.78 85.07 L727.12 84.45 L727.47 83.86 L727.81 83.30 L728.16 82.77 L728.51 82.27 L728.86 81.81 L729.21 81.37 L729.56 80.95 L729.92 80.57 L730.27 80.21 L730.62 79.88 L730.98 79.58 L731.34 79.31 L731.70 79.05 L732.06 78.83 L732.42 78.63 L732.78 78.45 L733.14 78.29 L733.51 78.16 L733.87 78.06 L734.24 77.97 L734.61 77.90 L734.97 77.86 L735.34 77.84 L735.72 77.84 L736.09 77.85 L736.46 77.89 L736.84 77.94 L737.21 78.02 L737.59 78.11 L737.97 78.21 L738.35 78.34 L738.73 78.48 L739.11 78.64 L739.50 78.81 L739.88 79.00 L740.27 79.20 L740.65 79.42 L741.04 79.65 L741.43 79.89 L741.83 80.15 L742.22 80.42 L742.61 80.70 L743.01 81.00 L743.41 81.31 L743.81 81.62 L744.21 81.95 L744.61 82.29 L745.01 82.64 L745.41 83.00 L745.82 83.37 L746.23 83.75 L746.64 84.13 L747.05 84.53 L747.46 84.93 L747.87 85.35 L748.28 85.77 L748.70 86.20 L749.12 86.63 L749.54 87.07 L749.96 87.52 L750.38 87.98 L750.80 88.44 L751.23 88.91 L751.66 89.38 L752.08 89.86 L752.51 90.35 L752.95 90.84 L753.38 91.34 L753.81 91.84 L754.25 92.34 L754.69 92.85 L755.13 93.37 L755.57 93.88 L756.01 94.41 L756.46 94.93 L756.90 95.46 L757.35 95.99 L757.80 96.53 L758.25 97.07 L758.71 97.61 L759.16 98.16 L759.62 98.70 L760.08 99.25 L760.54 99.81 L761.00 100.36 L761.46 100.92 L761.93 101.48 L762.39 102.04 L762.86 102.60 L763.33 103.17 L763.81 103.73 L764.28 104.30 L764.76 104.87 L765.23 105.44 L765.71 106.01 L766.20 106.58 L766.68 107.15 L767.16 107.73 L767.65 108.30 L768.14 108.88 L768.63 109.45 L769.13 110.03 L769.62 110.60 L770.12 111.18 L770.62 111.75 L771.12 112.33 L771.62 112.91 L772.12 113.48 L772.63 114.06 L773.14 114.63 L773.65 115.21 L774.16 115.78 L774.68 116.36 L775.19 116.93 L775.71 117.50 L776.23 118.07 L776.76 118.64 L777.28 119.22 L777.81 119.78 L778.34 120.35 L778.87 120.92 L779.40 121.49 L779.94 122.05 L780.47 122.61 L781.01 123.18 L781.55 123.74 L782.10 124.30 L782.64 124.85 L783.19 125.41 L783.74 125.96 L784.29 126.52 L784.85 127.07 L785.40 127.62 L785.96 128.16 L786.52 128.71 L787.09 129.25 L787.65 129.80 L788.22 130.34 L788.79 130.87 L789.36 131.41 L789.94 131.94 L790.51 132.48 L791.09 133.01 L791.67 133.53 L792.26 134.06 L792.84 134.58 L793.43 135.10 L794.02 135.62 L794.62 136.14 L795.21 136.65 L795.81 137.16 L796.41 137.67 L797.01 138.18 L797.62 138.68 L798.22 139.18 L798.83 139.68 L799.44 140.18 L800.06 140.67 L800.67 141.17 L801.29 141.65 L801.91 142.14 L802.54 142.63 L803.17 143.11 L803.79 143.59 L804.43 144.06 L805.06 144.54 L805.70 145.01 L806.33 145.48 L806.98 145.94 L807.62 146.41 L808.27 146.87 L808.92 147.33 L809.57 147.78 L810.22 148.24 L810.88 148.69 L811.54 149.14 L812.20 149.58 L812.86 150.03 L813.53 150.47 L814.20 150.91 L814.87 151.34 L815.55 151.77 L816.22 152.21 L816.90 152.63 L817.59 153.06 L818.27 153.48 L818.96 153.90 L819.65 154.32 L820.34 154.74 L821.04 155.15 L821.74 155.56 L822.44 155.97 L823.15 156.38 L823.85 156.78 L824.56 157.18 L825.27 157.58 L825.99 157.98 L826.71 158.37 L827.43 158.77 L828.15 159.15 L828.88 159.54 L829.61 159.93 L830.34 160.31 L831.08 160.69 L831.81 161.07 L832.55 161.45 L833.30 161.82 L834.04 162.19 L834.79 162.56 L835.55 162.93 L836.30 163.29 L837.06 163.66 L837.82 164.02 L838.58 164.37 L839.35 164.73 L840.12 165.09 L840.89 165.44 L841.67 165.79 L842.44 166.14 L843.23 166.48 L844.01 166.83 L844.80 167.17 L845.59 167.51 L846.38 167.84 L847.18 168.18 L847.98 168.51 L848.78 168.85 L849.59 169.18 L850.39 169.50 L851.21 169.83 L852.02 170.15 L852.84 170.47 L853.66 170.79 L854.48 171.11 L855.31 171.43 L856.14 171.74 L856.97 172.05 L857.81 172.36 L858.65 172.67 L859.49 172.97 L860.34 173.28 L861.19 173.58 L862.04 173.88 L862.89 174.18 L863.75 174.47 L864.61 174.77 L865.48 175.06 L866.35 175.35 L867.22 175.64 L868.09 175.92 L868.97 176.21 L869.85 176.49 L870.74 176.77 L871.62 177.05 L872.51 177.33 L873.41 177.60 L874.31 177.87 L875.21 178.14 L876.11 178.41 L877.02 178.68 L877.93 178.94 L878.84 179.21 L879.76 179.47 L880.68 179.72 L881.61 179.98 L882.54 180.23 L883.47 180.49 L884.40 180.74 L885.34 180.99 L886.28 181.23 L887.22 181.48 L888.17 181.72 L889.12 181.96 L890.08 182.20 L891.04 182.43 L892.00 182.67 L892.97 182.90 L893.94 183.13 L894.91 183.36 L895.88 183.58 L896.86 183.80 L897.85 184.03 L898.83 184.25 L899.82 184.46 L900.82 184.68 L901.81 184.89 L902.81 185.10 L903.82 185.31 L904.83 185.52 L905.84 185.72 L906.85 185.92 L907.87 186.12 L908.90 186.32 L909.92 186.52 L910.95 186.71 L911.98 186.90 L913.02 187.09 L914.06 187.28 L915.11 187.47 L916.16 187.65 L917.21 187.83 L918.26 188.01 L919.32 188.19 L920.39 188.37 L921.45 188.54 L922.52 188.71 L923.60 188.88 L924.67 189.05 L925.76 189.21 L926.84 189.38 L927.93 189.54 L929.02 189.70 L930.12 189.85 L931.22 190.01 L932.33 190.16 L933.43 190.31 L934.55 190.46 L935.66 190.61 L936.78 190.76 L937.91 190.90 L939.03 191.04 L940.17 191.18 L941.30 191.32 L942.44 191.46 L943.58 191.59 L944.73 191.73 L945.88 191.86 L947.04 191.99 L948.20 192.12 L949.36 192.24 L950.53 192.37 L951.70 192.49 L952.87 192.61 L954.05 192.73 L955.23 192.85 L956.42 192.97 L957.61 193.09 L958.81 193.20 L960.01 193.32 L961.21 193.43 L962.42 193.54 L963.63 193.65 L964.84 193.75 L966.06 193.86 L967.29 193.97 L968.51 194.07 L969.75 194.17 L970.98 194.28 L972.22 194.38 L973.47 194.48 L974.71 194.58 L975.97 194.67 L977.22 194.77 L978.48 194.87 L979.75 194.96 L981.02 195.05 L982.29 195.15 L983.57 195.24 L984.85 195.33 L986.14 195.42 L987.43 195.51 L988.72 195.60 L990.02 195.69 L991.32 195.78 L992.63 195.86 L993.94 195.95 L995.26 196.04 L996.58 196.12 L997.90 196.21 L999.23 196.29 L1000.56 196.37 L1001.90 196.46 L1003.24 196.54 L1004.59 196.62 L1005.94 196.70 L1007.30 196.78 L1008.65 196.87 L1010.02 196.95 L1011.39 197.03 L1012.76 197.11 L1014.14 197.18 L1015.52 197.26 L1016.90 197.34 L1018.29 197.42 L1019.69 197.50 L1021.09 197.57 L1022.49 197.65 L1023.90 197.73 L1025.31 197.81 L1026.73 197.88 L1028.15 197.96 L1029.58 198.03 L1031.01 198.11 L1032.44 198.18 L1033.88 198.26 L1035.33 198.33 L1036.78 198.41 L1038.23 198.48 L1039.69 198.55 L1041.15 198.63 L1042.62 198.70 L1044.09 198.77 L1045.56 198.85 L1047.05 198.92 L1048.53 198.99 L1050.02 199.06 L1051.52 199.13 L1053.02 199.20 L1054.52 199.27 L1056.03 199.34 L1057.54 199.41 L1059.06 199.48 L1060.58 199.55 L1062.11 199.62 L1063.65 199.69 L1065.18 199.75 L1066.72 199.82 L1068.27 199.89 L1069.82 199.95 L1071.38 200.02 L1072.94 200.08 L1074.51 200.15 L1076.08 200.21 L1077.65 200.27 L1079.23 200.34 L1080.82 200.40 L1082.41 200.46 L1084.00 200.52 L1085.60 200.58 L1087.21 200.64 L1088.82 200.70 L1090.43 200.76 L1092.05 200.82 L1093.67 200.87 L1095.30 200.93 L1096.94 200.99 L1098.57 201.04 L1100.22 201.10 L1101.87 201.15 L1103.52 201.20 L1105.18 201.25 L1106.84 201.31 L1108.51 201.36 L1110.18 201.41 L1111.86 201.46 L1113.55 201.50 L1115.23 201.55 L1116.93 201.60 L1118.63 201.65 L1120.33 201.69 L1122.04 201.74 L1123.75 201.78 L1125.47 201.82 L1127.20 201.87 L1128.92 201.91 L1130.66 201.95 L1132.40 201.99 L1134.14 202.03 L1135.89 202.07 L1137.65 202.11 L1139.40 202.15 L1141.17 202.18 L1142.94 202.22 L1144.71 202.26 L1146.49 202.29 L1148.28 202.33 L1150.07 202.36 L1151.87 202.39 L1153.67 202.43 L1155.47 202.46 L1157.29 202.49 L1159.10 202.52 L1160.92 202.55 L1162.75 202.58 L1164.58 202.61 L1166.42 202.64 L1168.27 202.67 L1170.11 202.70 L1171.97 202.72 L1173.83 202.75 L1175.69 202.78 L1177.56 202.80 L1179.43 202.83 L1181.32 202.85 L1183.20 202.88 L1185.09 202.90 L1186.99 202.93 L1188.89 202.95" fill="none" stroke="#000" stroke-width="1.7" stroke-linejoin="round" stroke-linecap="square"/>
<path d="M692.90 209.20 L693.19 214.00 L693.48 218.50 L693.77 222.70 L694.06 226.62 L694.35 230.27 L694.64 233.66 L694.93 236.78 L695.22 239.67 L695.51 242.31 L695.80 244.72 L696.09 246.92 L696.38 248.90 L696.67 250.68 L696.96 252.26 L697.25 253.65 L697.54 254.87 L697.83 255.91 L698.13 256.79 L698.42 257.51 L698.71 258.09 L699.00 258.52 L699.29 258.81 L699.58 258.98 L699.88 259.02 L700.17 258.95 L700.46 258.77 L700.75 258.49 L701.05 258.11 L701.34 257.64 L701.63 257.08 L701.93 256.45 L702.22 255.74 L702.52 254.96 L702.81 254.11 L703.11 253.21 L703.40 252.25 L703.70 251.24 L704.00 250.18 L704.29 249.09 L704.59 247.95 L704.89 246.79 L705.18 245.59 L705.48 244.37 L705.78 243.12 L706.08 241.86 L706.38 240.58 L706.68 239.28 L706.98 237.98 L707.28 236.67 L707.58 235.36 L707.88 234.04 L708.18 232.73 L708.48 231.42 L708.79 230.11 L709.09 228.81 L709.39 227.52 L709.70 226.25 L710.00 224.98 L710.31 223.73 L710.61 222.50 L710.92 221.28 L711.23 220.09 L711.53 218.91 L711.84 217.76 L712.15 216.63 L712.46 215.53 L712.77 214.45 L713.08 213.39 L713.39 212.36 L713.70 211.36 L714.01 210.39 L714.33 209.44 L714.64 208.53 L714.95 207.64 L715.27 206.79 L715.58 205.96 L715.90 205.17 L716.22 204.40 L716.53 203.67 L716.85 202.97 L717.17 202.30 L717.49 201.66 L717.81 201.05 L718.13 200.47 L718.46 199.92 L718.78 199.40 L719.10 198.91 L719.43 198.46 L719.75 198.03 L720.08 197.63 L720.40 197.27 L720.73 196.93 L721.06 196.62 L721.39 196.33 L721.72 196.08 L722.05 195.85 L722.38 195.65 L722.71 195.48 L723.05 195.33 L723.38 195.20 L723.72 195.10 L724.05 195.03 L724.39 194.98 L724.73 194.95 L725.07 194.95 L725.41 194.97 L725.75 195.01 L726.09 195.07 L726.43 195.15 L726.78 195.25 L727.12 195.37 L727.47 195.51 L727.81 195.66 L728.16 195.84 L728.51 196.03 L728.86 196.24 L729.21 196.46 L729.56 196.70 L729.92 196.95 L730.27 197.22 L730.62 197.50 L730.98 197.80 L731.34 198.11 L731.70 198.43 L732.06 198.76 L732.42 199.10 L732.78 199.46 L733.14 199.82 L733.51 200.19 L733.87 200.58 L734.24 200.97 L734.61 201.37 L734.97 201.78 L735.34 202.20 L735.72 202.62 L736.09 203.06 L736.46 203.49 L736.84 203.94 L737.21 204.39 L737.59 204.85 L737.97 205.31 L738.35 205.78 L738.73 206.25 L739.11 206.72 L739.50 207.21 L739.88 207.69 L740.27 208.18 L740.65 208.67 L741.04 209.17 L741.43 209.67 L741.83 210.17 L742.22 210.67 L742.61 211.18 L743.01 211.69 L743.41 212.20 L743.81 212.71 L744.21 213.23 L744.61 213.75 L745.01 214.26 L745.41 214.79 L745.82 215.31 L746.23 215.83 L746.64 216.36 L747.05 216.88 L747.46 217.41 L747.87 217.94 L748.28 218.47 L748.70 219.00 L749.12 219.53 L749.54 220.06 L749.96 220.59 L750.38 221.13 L750.80 221.66 L751.23 222.19 L751.66 222.73 L752.08 223.26 L752.51 223.80 L752.95 224.34 L753.38 224.87 L753.81 225.41 L754.25 225.95 L754.69 226.49 L755.13 227.02 L755.57 227.56 L756.01 228.10 L756.46 228.64 L756.90 229.18 L757.35 229.72 L757.80 230.26 L758.25 230.80 L758.71 231.34 L759.16 231.88 L759.62 232.41 L760.08 232.95 L760.54 233.49 L761.00 234.03 L761.46 234.57 L761.93 235.11 L762.39 235.65 L762.86 236.19 L763.33 236.73 L763.81 237.26 L764.28 237.80 L764.76 238.34 L765.23 238.88 L765.71 239.41 L766.20 239.95 L766.68 240.48 L767.16 241.02 L767.65 241.55 L768.14 242.08 L768.63 242.62 L769.13 243.15 L769.62 243.68 L770.12 244.21 L770.62 244.73 L771.12 245.26 L771.62 245.79 L772.12 246.31 L772.63 246.83 L773.14 247.36 L773.65 247.88 L774.16 248.39 L774.68 248.91 L775.19 249.43 L775.71 249.94 L776.23 250.45 L776.76 250.96 L777.28 251.47 L777.81 251.98 L778.34 252.48 L778.87 252.98 L779.40 253.48 L779.94 253.98 L780.47 254.48 L781.01 254.97 L781.55 255.46 L782.10 255.95 L782.64 256.44 L783.19 256.92 L783.74 257.40 L784.29 257.88 L784.85 258.35 L785.40 258.83 L785.96 259.30 L786.52 259.76 L787.09 260.23 L787.65 260.69 L788.22 261.15 L788.79 261.60 L789.36 262.06 L789.94 262.50 L790.51 262.95 L791.09 263.39 L791.67 263.84 L792.26 264.27 L792.84 264.71 L793.43 265.14 L794.02 265.57 L794.62 265.99 L795.21 266.41 L795.81 266.83 L796.41 267.25 L797.01 267.66 L797.62 268.07 L798.22 268.47 L798.83 268.87 L799.44 269.27 L800.06 269.67 L800.67 270.06 L801.29 270.45 L801.91 270.84 L802.54 271.22 L803.17 271.60 L803.79 271.98 L804.43 272.35 L805.06 272.73 L805.70 273.09 L806.33 273.46 L806.98 273.82 L807.62 274.18 L808.27 274.53 L808.92 274.89 L809.57 275.24 L810.22 275.58 L810.88 275.93 L811.54 276.27 L812.20 276.61 L812.86 276.94 L813.53 277.28 L814.20 277.61 L814.87 277.93 L815.55 278.26 L816.22 278.58 L816.90 278.90 L817.59 279.22 L818.27 279.53 L818.96 279.84 L819.65 280.15 L820.34 280.46 L821.04 280.76 L821.74 281.07 L822.44 281.37 L823.15 281.66 L823.85 281.96 L824.56 282.25 L825.27 282.54 L825.99 282.83 L826.71 283.11 L827.43 283.40 L828.15 283.68 L828.88 283.96 L829.61 284.24 L830.34 284.51 L831.08 284.79 L831.81 285.06 L832.55 285.33 L833.30 285.59 L834.04 285.86 L834.79 286.12 L835.55 286.38 L836.30 286.64 L837.06 286.90 L837.82 287.16 L838.58 287.41 L839.35 287.67 L840.12 287.92 L840.89 288.17 L841.67 288.41 L842.44 288.66 L843.23 288.90 L844.01 289.15 L844.80 289.39 L845.59 289.63 L846.38 289.87 L847.18 290.10 L847.98 290.34 L848.78 290.57 L849.59 290.80 L850.39 291.03 L851.21 291.26 L852.02 291.49 L852.84 291.71 L853.66 291.93 L854.48 292.16 L855.31 292.38 L856.14 292.60 L856.97 292.81 L857.81 293.03 L858.65 293.25 L859.49 293.46 L860.34 293.67 L861.19 293.88 L862.04 294.09 L862.89 294.30 L863.75 294.51 L864.61 294.71 L865.48 294.91 L866.35 295.12 L867.22 295.32 L868.09 295.52 L868.97 295.71 L869.85 295.91 L870.74 296.10 L871.62 296.30 L872.51 296.49 L873.41 296.68 L874.31 296.87 L875.21 297.06 L876.11 297.24 L877.02 297.43 L877.93 297.61 L878.84 297.79 L879.76 297.98 L880.68 298.16 L881.61 298.33 L882.54 298.51 L883.47 298.69 L884.40 298.86 L885.34 299.03 L886.28 299.20 L887.22 299.37 L888.17 299.54 L889.12 299.71 L890.08 299.87 L891.04 300.04 L892.00 300.20 L892.97 300.36 L893.94 300.52 L894.91 300.68 L895.88 300.84 L896.86 300.99 L897.85 301.15 L898.83 301.30 L899.82 301.45 L900.82 301.60 L901.81 301.75 L902.81 301.90 L903.82 302.05 L904.83 302.19 L905.84 302.34 L906.85 302.48 L907.87 302.62 L908.90 302.76 L909.92 302.90 L910.95 303.04 L911.98 303.17 L913.02 303.31 L914.06 303.44 L915.11 303.57 L916.16 303.71 L917.21 303.83 L918.26 303.96 L919.32 304.09 L920.39 304.22 L921.45 304.34 L922.52 304.47 L923.60 304.59 L924.67 304.71 L925.76 304.83 L926.84 304.95 L927.93 305.07 L929.02 305.18 L930.12 305.30 L931.22 305.41 L932.33 305.53 L933.43 305.64 L934.55 305.75 L935.66 305.86 L936.78 305.97 L937.91 306.08 L939.03 306.18 L940.17 306.29 L941.30 306.40 L942.44 306.50 L943.58 306.60 L944.73 306.70 L945.88 306.80 L947.04 306.90 L948.20 307.00 L949.36 307.10 L950.53 307.20 L951.70 307.29 L952.87 307.39 L954.05 307.48 L955.23 307.58 L956.42 307.67 L957.61 307.76 L958.81 307.85 L960.01 307.94 L961.21 308.03 L962.42 308.12 L963.63 308.20 L964.84 308.29 L966.06 308.37 L967.29 308.46 L968.51 308.54 L969.75 308.62 L970.98 308.71 L972.22 308.79 L973.47 308.87 L974.71 308.95 L975.97 309.03 L977.22 309.10 L978.48 309.18 L979.75 309.26 L981.02 309.33 L982.29 309.41 L983.57 309.48 L984.85 309.56 L986.14 309.63 L987.43 309.70 L988.72 309.77 L990.02 309.84 L991.32 309.91 L992.63 309.98 L993.94 310.05 L995.26 310.12 L996.58 310.19 L997.90 310.26 L999.23 310.32 L1000.56 310.39 L1001.90 310.45 L1003.24 310.52 L1004.59 310.58 L1005.94 310.64 L1007.30 310.71 L1008.65 310.77 L1010.02 310.83 L1011.39 310.89 L1012.76 310.95 L1014.14 311.01 L1015.52 311.07 L1016.90 311.13 L1018.29 311.19 L1019.69 311.24 L1021.09 311.30 L1022.49 311.36 L1023.90 311.41 L1025.31 311.47 L1026.73 311.52 L1028.15 311.58 L1029.58 311.63 L1031.01 311.69 L1032.44 311.74 L1033.88 311.79 L1035.33 311.84 L1036.78 311.90 L1038.23 311.95 L1039.69 312.00 L1041.15 312.05 L1042.62 312.10 L1044.09 312.15 L1045.56 312.20 L1047.05 312.25 L1048.53 312.29 L1050.02 312.34 L1051.52 312.39 L1053.02 312.44 L1054.52 312.48 L1056.03 312.53 L1057.54 312.57 L1059.06 312.62 L1060.58 312.66 L1062.11 312.71 L1063.65 312.75 L1065.18 312.80 L1066.72 312.84 L1068.27 312.88 L1069.82 312.93 L1071.38 312.97 L1072.94 313.01 L1074.51 313.05 L1076.08 313.10 L1077.65 313.14 L1079.23 313.18 L1080.82 313.22 L1082.41 313.26 L1084.00 313.30 L1085.60 313.34 L1087.21 313.38 L1088.82 313.42 L1090.43 313.46 L1092.05 313.49 L1093.67 313.53 L1095.30 313.57 L1096.94 313.61 L1098.57 313.64 L1100.22 313.68 L1101.87 313.72 L1103.52 313.76 L1105.18 313.79 L1106.84 313.83 L1108.51 313.86 L1110.18 313.90 L1111.86 313.93 L1113.55 313.97 L1115.23 314.00 L1116.93 314.04 L1118.63 314.07 L1120.33 314.11 L1122.04 314.14 L1123.75 314.17 L1125.47 314.21 L1127.20 314.24 L1128.92 314.27 L1130.66 314.31 L1132.40 314.34 L1134.14 314.37 L1135.89 314.40 L1137.65 314.43 L1139.40 314.47 L1141.17 314.50 L1142.94 314.53 L1144.71 314.56 L1146.49 314.59 L1148.28 314.62 L1150.07 314.65 L1151.87 314.68 L1153.67 314.71 L1155.47 314.74 L1157.29 314.77 L1159.10 314.80 L1160.92 314.83 L1162.75 314.86 L1164.58 314.89 L1166.42 314.92 L1168.27 314.95 L1170.11 314.97 L1171.97 315.00 L1173.83 315.03 L1175.69 315.06 L1177.56 315.09 L1179.43 315.11 L1181.32 315.14 L1183.20 315.17 L1185.09 315.20 L1186.99 315.22 L1188.89 315.25" fill="none" stroke="#f00" stroke-width="1.7" stroke-linejoin="round" stroke-linecap="square"/>
<path d="M692.90 209.20 L693.19 216.30 L693.48 222.92 L693.77 229.10 L694.06 234.85 L694.35 240.18 L694.64 245.13 L694.93 249.69 L695.22 253.90 L695.51 257.77 L695.80 261.31 L696.09 264.54 L696.38 267.48 L696.67 270.14 L696.96 272.53 L697.25 274.67 L697.54 276.58 L697.83 278.26 L698.13 279.72 L698.42 280.99 L698.71 282.07 L699.00 282.98 L699.29 283.71 L699.58 284.30 L699.88 284.73 L700.17 285.03 L700.46 285.21 L700.75 285.26 L701.05 285.21 L701.34 285.05 L701.63 284.81 L701.93 284.48 L702.22 284.06 L702.52 283.58 L702.81 283.03 L703.11 282.43 L703.40 281.77 L703.70 281.06 L704.00 280.31 L704.29 279.53 L704.59 278.71 L704.89 277.86 L705.18 276.99 L705.48 276.11 L705.78 275.20 L706.08 274.29 L706.38 273.37 L706.68 272.44 L706.98 271.51 L707.28 270.59 L707.58 269.66 L707.88 268.75 L708.18 267.84 L708.48 266.94 L708.79 266.05 L709.09 265.18 L709.39 264.33 L709.70 263.49 L710.00 262.67 L710.31 261.87 L710.61 261.10 L710.92 260.34 L711.23 259.61 L711.53 258.91 L711.84 258.23 L712.15 257.57 L712.46 256.94 L712.77 256.34 L713.08 255.77 L713.39 255.22 L713.70 254.70 L714.01 254.21 L714.33 253.75 L714.64 253.31 L714.95 252.91 L715.27 252.53 L715.58 252.18 L715.90 251.85 L716.22 251.56 L716.53 251.29 L716.85 251.05 L717.17 250.83 L717.49 250.64 L717.81 250.48 L718.13 250.34 L718.46 250.23 L718.78 250.14 L719.10 250.07 L719.43 250.03 L719.75 250.02 L720.08 250.02 L720.40 250.05 L720.73 250.10 L721.06 250.17 L721.39 250.26 L721.72 250.37 L722.05 250.50 L722.38 250.65 L722.71 250.81 L723.05 251.00 L723.38 251.20 L723.72 251.41 L724.05 251.65 L724.39 251.89 L724.73 252.16 L725.07 252.43 L725.41 252.72 L725.75 253.03 L726.09 253.35 L726.43 253.67 L726.78 254.01 L727.12 254.37 L727.47 254.73 L727.81 255.10 L728.16 255.48 L728.51 255.87 L728.86 256.27 L729.21 256.68 L729.56 257.10 L729.92 257.52 L730.27 257.95 L730.62 258.39 L730.98 258.83 L731.34 259.28 L731.70 259.74 L732.06 260.20 L732.42 260.67 L732.78 261.14 L733.14 261.61 L733.51 262.09 L733.87 262.58 L734.24 263.06 L734.61 263.55 L734.97 264.05 L735.34 264.54 L735.72 265.04 L736.09 265.54 L736.46 266.05 L736.84 266.55 L737.21 267.06 L737.59 267.57 L737.97 268.08 L738.35 268.60 L738.73 269.11 L739.11 269.62 L739.50 270.14 L739.88 270.66 L740.27 271.18 L740.65 271.70 L741.04 272.21 L741.43 272.73 L741.83 273.26 L742.22 273.78 L742.61 274.30 L743.01 274.82 L743.41 275.34 L743.81 275.86 L744.21 276.38 L744.61 276.90 L745.01 277.43 L745.41 277.95 L745.82 278.47 L746.23 278.99 L746.64 279.51 L747.05 280.03 L747.46 280.55 L747.87 281.07 L748.28 281.59 L748.70 282.11 L749.12 282.63 L749.54 283.15 L749.96 283.67 L750.38 284.19 L750.80 284.70 L751.23 285.22 L751.66 285.73 L752.08 286.25 L752.51 286.77 L752.95 287.28 L753.38 287.79 L753.81 288.31 L754.25 288.82 L754.69 289.33 L755.13 289.84 L755.57 290.35 L756.01 290.86 L756.46 291.37 L756.90 291.88 L757.35 292.38 L757.80 292.89 L758.25 293.39 L758.71 293.90 L759.16 294.40 L759.62 294.90 L760.08 295.40 L760.54 295.90 L761.00 296.40 L761.46 296.90 L761.93 297.39 L762.39 297.89 L762.86 298.38 L763.33 298.87 L763.81 299.36 L764.28 299.85 L764.76 300.34 L765.23 300.83 L765.71 301.31 L766.20 301.79 L766.68 302.27 L767.16 302.75 L767.65 303.23 L768.14 303.71 L768.63 304.18 L769.13 304.65 L769.62 305.12 L770.12 305.59 L770.62 306.06 L771.12 306.52 L771.62 306.98 L772.12 307.44 L772.63 307.90 L773.14 308.36 L773.65 308.81 L774.16 309.26 L774.68 309.71 L775.19 310.15 L775.71 310.60 L776.23 311.04 L776.76 311.48 L777.28 311.91 L777.81 312.35 L778.34 312.78 L778.87 313.20 L779.40 313.63 L779.94 314.05 L780.47 314.47 L781.01 314.89 L781.55 315.30 L782.10 315.71 L782.64 316.12 L783.19 316.53 L783.74 316.93 L784.29 317.33 L784.85 317.73 L785.40 318.12 L785.96 318.51 L786.52 318.90 L787.09 319.28 L787.65 319.66 L788.22 320.04 L788.79 320.42 L789.36 320.79 L789.94 321.16 L790.51 321.53 L791.09 321.89 L791.67 322.25 L792.26 322.61 L792.84 322.97 L793.43 323.32 L794.02 323.67 L794.62 324.01 L795.21 324.36 L795.81 324.70 L796.41 325.03 L797.01 325.37 L797.62 325.70 L798.22 326.03 L798.83 326.35 L799.44 326.68 L800.06 327.00 L800.67 327.32 L801.29 327.63 L801.91 327.94 L802.54 328.25 L803.17 328.56 L803.79 328.86 L804.43 329.17 L805.06 329.46 L805.70 329.76 L806.33 330.06 L806.98 330.35 L807.62 330.64 L808.27 330.92 L808.92 331.21 L809.57 331.49 L810.22 331.77 L810.88 332.05 L811.54 332.33 L812.20 332.60 L812.86 332.87 L813.53 333.14 L814.20 333.41 L814.87 333.68 L815.55 333.94 L816.22 334.20 L816.90 334.46 L817.59 334.72 L818.27 334.98 L818.96 335.23 L819.65 335.49 L820.34 335.74 L821.04 335.99 L821.74 336.24 L822.44 336.48 L823.15 336.73 L823.85 336.97 L824.56 337.22 L825.27 337.46 L825.99 337.70 L826.71 337.94 L827.43 338.17 L828.15 338.41 L828.88 338.64 L829.61 338.88 L830.34 339.11 L831.08 339.34 L831.81 339.57 L832.55 339.80 L833.30 340.03 L834.04 340.25 L834.79 340.48 L835.55 340.70 L836.30 340.93 L837.06 341.15 L837.82 341.37 L838.58 341.59 L839.35 341.81 L840.12 342.03 L840.89 342.25 L841.67 342.46 L842.44 342.68 L843.23 342.89 L844.01 343.10 L844.80 343.32 L845.59 343.53 L846.38 343.74 L847.18 343.95 L847.98 344.16 L848.78 344.36 L849.59 344.57 L850.39 344.77 L851.21 344.98 L852.02 345.18 L852.84 345.38 L853.66 345.58 L854.48 345.78 L855.31 345.98 L856.14 346.18 L856.97 346.37 L857.81 346.57 L858.65 346.76 L859.49 346.96 L860.34 347.15 L861.19 347.34 L862.04 347.53 L862.89 347.72 L863.75 347.90 L864.61 348.09 L865.48 348.27 L866.35 348.45 L867.22 348.64 L868.09 348.82 L868.97 348.99 L869.85 349.17 L870.74 349.35 L871.62 349.52 L872.51 349.70 L873.41 349.87 L874.31 350.04 L875.21 350.21 L876.11 350.37 L877.02 350.54 L877.93 350.70 L878.84 350.87 L879.76 351.03 L880.68 351.19 L881.61 351.35 L882.54 351.50 L883.47 351.66 L884.40 351.81 L885.34 351.97 L886.28 352.12 L887.22 352.27 L888.17 352.41 L889.12 352.56 L890.08 352.70 L891.04 352.85 L892.00 352.99 L892.97 353.13 L893.94 353.27 L894.91 353.40 L895.88 353.54 L896.86 353.67 L897.85 353.81 L898.83 353.94 L899.82 354.07 L900.82 354.19 L901.81 354.32 L902.81 354.44 L903.82 354.57 L904.83 354.69 L905.84 354.81 L906.85 354.93 L907.87 355.05 L908.90 355.16 L909.92 355.28 L910.95 355.39 L911.98 355.51 L913.02 355.62 L914.06 355.73 L915.11 355.84 L916.16 355.94 L917.21 356.05 L918.26 356.16 L919.32 356.26 L920.39 356.36 L921.45 356.46 L922.52 356.56 L923.60 356.66 L924.67 356.76 L925.76 356.86 L926.84 356.95 L927.93 357.05 L929.02 357.14 L930.12 357.24 L931.22 357.33 L932.33 357.42 L933.43 357.51 L934.55 357.60 L935.66 357.68 L936.78 357.77 L937.91 357.86 L939.03 357.94 L940.17 358.03 L941.30 358.11 L942.44 358.19 L943.58 358.27 L944.73 358.36 L945.88 358.44 L947.04 358.52 L948.20 358.59 L949.36 358.67 L950.53 358.75 L951.70 358.82 L952.87 358.90 L954.05 358.97 L955.23 359.05 L956.42 359.12 L957.61 359.19 L958.81 359.26 L960.01 359.34 L961.21 359.41 L962.42 359.47 L963.63 359.54 L964.84 359.61 L966.06 359.68 L967.29 359.74 L968.51 359.81 L969.75 359.88 L970.98 359.94 L972.22 360.00 L973.47 360.07 L974.71 360.13 L975.97 360.19 L977.22 360.25 L978.48 360.31 L979.75 360.37 L981.02 360.43 L982.29 360.49 L983.57 360.55 L984.85 360.61 L986.14 360.66 L987.43 360.72 L988.72 360.77 L990.02 360.83 L991.32 360.88 L992.63 360.94 L993.94 360.99 L995.26 361.04 L996.58 361.09 L997.90 361.14 L999.23 361.20 L1000.56 361.25 L1001.90 361.29 L1003.24 361.34 L1004.59 361.39 L1005.94 361.44 L1007.30 361.49 L1008.65 361.53 L1010.02 361.58 L1011.39 361.63 L1012.76 361.67 L1014.14 361.72 L1015.52 361.76 L1016.90 361.80 L1018.29 361.85 L1019.69 361.89 L1021.09 361.93 L1022.49 361.98 L1023.90 362.02 L1025.31 362.06 L1026.73 362.10 L1028.15 362.14 L1029.58 362.18 L1031.01 362.22 L1032.44 362.26 L1033.88 362.30 L1035.33 362.33 L1036.78 362.37 L1038.23 362.41 L1039.69 362.45 L1041.15 362.48 L1042.62 362.52 L1044.09 362.56 L1045.56 362.59 L1047.05 362.63 L1048.53 362.66 L1050.02 362.70 L1051.52 362.73 L1053.02 362.76 L1054.52 362.80 L1056.03 362.83 L1057.54 362.86 L1059.06 362.90 L1060.58 362.93 L1062.11 362.96 L1063.65 362.99 L1065.18 363.03 L1066.72 363.06 L1068.27 363.09 L1069.82 363.12 L1071.38 363.15 L1072.94 363.18 L1074.51 363.21 L1076.08 363.24 L1077.65 363.27 L1079.23 363.30 L1080.82 363.33 L1082.41 363.36 L1084.00 363.39 L1085.60 363.42 L1087.21 363.44 L1088.82 363.47 L1090.43 363.50 L1092.05 363.53 L1093.67 363.56 L1095.30 363.58 L1096.94 363.61 L1098.57 363.64 L1100.22 363.67 L1101.87 363.69 L1103.52 363.72 L1105.18 363.74 L1106.84 363.77 L1108.51 363.80 L1110.18 363.82 L1111.86 363.85 L1113.55 363.87 L1115.23 363.90 L1116.93 363.92 L1118.63 363.95 L1120.33 363.97 L1122.04 364.00 L1123.75 364.02 L1125.47 364.05 L1127.20 364.07 L1128.92 364.10 L1130.66 364.12 L1132.40 364.14 L1134.14 364.17 L1135.89 364.19 L1137.65 364.22 L1139.40 364.24 L1141.17 364.26 L1142.94 364.29 L1144.71 364.31 L1146.49 364.33 L1148.28 364.35 L1150.07 364.38 L1151.87 364.40 L1153.67 364.42 L1155.47 364.45 L1157.29 364.47 L1159.10 364.49 L1160.92 364.51 L1162.75 364.53 L1164.58 364.56 L1166.42 364.58 L1168.27 364.60 L1170.11 364.62 L1171.97 364.64 L1173.83 364.67 L1175.69 364.69 L1177.56 364.71 L1179.43 364.73 L1181.32 364.75 L1183.20 364.77 L1185.09 364.80 L1186.99 364.82 L1188.89 364.84" fill="none" stroke="#0f0" stroke-width="1.7" stroke-linejoin="round" stroke-linecap="square"/>
<g style="will-change:transform">
<text x="134.65" y="389.70" transform="rotate(0.15 134.65 389.70)" text-anchor="middle" font-size="20.8" fill="#000" stroke="#000" stroke-width="0.2" >0.5</text>
<text x="217.30" y="389.70" transform="rotate(0.15 217.30 389.70)" text-anchor="middle" font-size="20.8" fill="#000" stroke="#000" stroke-width="0.2" >1.0</text>
<text x="299.95" y="389.70" transform="rotate(0.15 299.95 389.70)" text-anchor="middle" font-size="20.8" fill="#000" stroke="#000" stroke-width="0.2" >1.5</text>
<text x="382.60" y="389.70" transform="rotate(0.15 382.60 389.70)" text-anchor="middle" font-size="20.8" fill="#000" stroke="#000" stroke-width="0.2" >2.0</text>
<text x="465.25" y="389.70" transform="rotate(0.15 465.25 389.70)" text-anchor="middle" font-size="20.8" fill="#000" stroke="#000" stroke-width="0.2" >2.5</text>
<text x="547.90" y="389.70" transform="rotate(0.15 547.90 389.70)" text-anchor="middle" font-size="20.8" fill="#000" stroke="#000" stroke-width="0.2" >3.0</text>
<text x="45.40" y="90.85" transform="rotate(0.15 45.40 90.85)" text-anchor="end" font-size="20.8" fill="#000" stroke="#000" stroke-width="0.2" >3.5</text>
<text x="45.40" y="156.31" transform="rotate(0.15 45.40 156.31)" text-anchor="end" font-size="20.8" fill="#000" stroke="#000" stroke-width="0.2" >3.0</text>
<text x="45.40" y="221.78" transform="rotate(0.15 45.40 221.78)" text-anchor="end" font-size="20.8" fill="#000" stroke="#000" stroke-width="0.2" >2.5</text>
<text x="45.40" y="287.25" transform="rotate(0.15 45.40 287.25)" text-anchor="end" font-size="20.8" fill="#000" stroke="#000" stroke-width="0.2" >2.0</text>
<text x="45.40" y="352.71" transform="rotate(0.15 45.40 352.71)" text-anchor="end" font-size="20.8" fill="#000" stroke="#000" stroke-width="0.2" >1.5</text>
<text x="575.50" y="372.30" transform="rotate(0.15 575.50 372.30)" text-anchor="start" font-size="20.8" fill="#666" stroke="#666" stroke-width="0.12" font-style="italic">t</text>
<text x="16.50" y="36.60" transform="rotate(0.15 16.50 36.60)" text-anchor="start" font-size="21.5" fill="#666" stroke="#666" stroke-width="0.12" font-style="italic">C</text>
<text x="31.10" y="41.70" transform="rotate(0.15 31.10 41.70)" text-anchor="start" font-size="19.5" fill="#666" stroke="#666" stroke-width="0.12" font-style="italic">l</text>
<text x="35.40" y="46.80" transform="rotate(0.15 35.40 46.80)" text-anchor="start" font-size="19" fill="#666" stroke="#666" stroke-width="0.12" >1</text>
<text x="48.30" y="36.60" transform="rotate(0.15 48.30 36.60)" text-anchor="start" font-size="21.5" fill="#666" stroke="#666" stroke-width="0.12" >(</text>
<text x="56.40" y="36.60" transform="rotate(0.15 56.40 36.60)" text-anchor="start" font-size="21.5" fill="#666" stroke="#666" stroke-width="0.12" font-style="italic">ρ</text>
<text x="67.80" y="40.70" transform="rotate(0.15 67.80 40.70)" text-anchor="start" font-size="19.5" fill="#666" stroke="#666" stroke-width="0.12" font-style="italic">A</text>
<text x="80.80" y="36.60" transform="rotate(0.15 80.80 36.60)" text-anchor="start" font-size="21.5" fill="#666" stroke="#666" stroke-width="0.12" >)</text>
<text x="775.56" y="389.70" transform="rotate(0.15 775.56 389.70)" text-anchor="middle" font-size="20.8" fill="#000" stroke="#000" stroke-width="0.2" >5</text>
<text x="858.23" y="389.70" transform="rotate(0.15 858.23 389.70)" text-anchor="middle" font-size="20.8" fill="#000" stroke="#000" stroke-width="0.2" >10</text>
<text x="940.89" y="389.70" transform="rotate(0.15 940.89 389.70)" text-anchor="middle" font-size="20.8" fill="#000" stroke="#000" stroke-width="0.2" >15</text>
<text x="1023.56" y="389.70" transform="rotate(0.15 1023.56 389.70)" text-anchor="middle" font-size="20.8" fill="#000" stroke="#000" stroke-width="0.2" >20</text>
<text x="1106.22" y="389.70" transform="rotate(0.15 1106.22 389.70)" text-anchor="middle" font-size="20.8" fill="#000" stroke="#000" stroke-width="0.2" >25</text>
<text x="1188.89" y="389.70" transform="rotate(0.15 1188.89 389.70)" text-anchor="middle" font-size="20.8" fill="#000" stroke="#000" stroke-width="0.2" >30</text>
<text x="686.60" y="114.74" transform="rotate(0.15 686.60 114.74)" text-anchor="end" font-size="20.8" fill="#000" stroke="#000" stroke-width="0.2" >2.0</text>
<text x="686.60" y="162.92" transform="rotate(0.15 686.60 162.92)" text-anchor="end" font-size="20.8" fill="#000" stroke="#000" stroke-width="0.2" >1.8</text>
<text x="686.60" y="211.09" transform="rotate(0.15 686.60 211.09)" text-anchor="end" font-size="20.8" fill="#000" stroke="#000" stroke-width="0.2" >1.6</text>
<text x="686.60" y="259.27" transform="rotate(0.15 686.60 259.27)" text-anchor="end" font-size="20.8" fill="#000" stroke="#000" stroke-width="0.2" >1.4</text>
<text x="686.60" y="307.44" transform="rotate(0.15 686.60 307.44)" text-anchor="end" font-size="20.8" fill="#000" stroke="#000" stroke-width="0.2" >1.2</text>
<text x="686.60" y="355.62" transform="rotate(0.15 686.60 355.62)" text-anchor="end" font-size="20.8" fill="#000" stroke="#000" stroke-width="0.2" >1.0</text>
<text x="1216.49" y="372.30" transform="rotate(0.15 1216.49 372.30)" text-anchor="start" font-size="20.8" fill="#666" stroke="#666" stroke-width="0.12" font-style="italic">t</text>
<text x="657.40" y="36.60" transform="rotate(0.15 657.40 36.60)" text-anchor="start" font-size="21.5" fill="#666" stroke="#666" stroke-width="0.12" font-style="italic">C</text>
<text x="672.00" y="41.70" transform="rotate(0.15 672.00 41.70)" text-anchor="start" font-size="19.5" fill="#666" stroke="#666" stroke-width="0.12" font-style="italic">l</text>
<text x="676.30" y="46.80" transform="rotate(0.15 676.30 46.80)" text-anchor="start" font-size="19" fill="#666" stroke="#666" stroke-width="0.12" >1</text>
<text x="689.20" y="36.60" transform="rotate(0.15 689.20 36.60)" text-anchor="start" font-size="21.5" fill="#666" stroke="#666" stroke-width="0.12" >(</text>
<text x="697.30" y="36.60" transform="rotate(0.15 697.30 36.60)" text-anchor="start" font-size="21.5" fill="#666" stroke="#666" stroke-width="0.12" font-style="italic">ρ</text>
<text x="708.70" y="40.70" transform="rotate(0.15 708.70 40.70)" text-anchor="start" font-size="19.5" fill="#666" stroke="#666" stroke-width="0.12" font-style="italic">A</text>
<text x="721.70" y="36.60" transform="rotate(0.15 721.70 36.60)" text-anchor="start" font-size="21.5" fill="#666" stroke="#666" stroke-width="0.12" >)</text>
</g>
</svg>
</body></html>
